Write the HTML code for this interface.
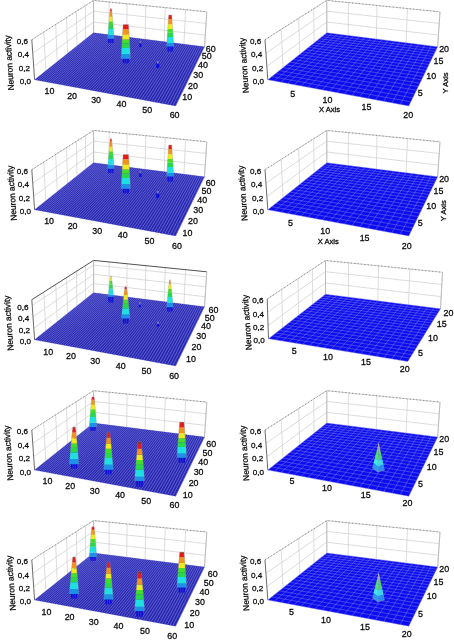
<!DOCTYPE html>
<html lang="en"><head><meta charset="utf-8"><title>Neuron activity</title>
<style>html,body{margin:0;padding:0;background:#fff}svg{display:block}text{font-family:"Liberation Sans",Arial,sans-serif}</style></head><body>
<svg width="454" height="642" viewBox="0 0 454 642">
<rect width="454" height="642" fill="#ffffff"/>
<g>
<line x1="45.83" y1="70.85" x2="43.74" y2="32.11" stroke="#d0d0d0" stroke-width="0.75"/>
<line x1="109.01" y1="34.73" x2="109.16" y2="1.97" stroke="#d0d0d0" stroke-width="0.75"/>
<line x1="57.2" y1="61.8" x2="55.73" y2="24.48" stroke="#d0d0d0" stroke-width="0.75"/>
<line x1="126.72" y1="36.95" x2="127.12" y2="3.78" stroke="#d0d0d0" stroke-width="0.75"/>
<line x1="67.53" y1="53.57" x2="66.56" y2="17.59" stroke="#d0d0d0" stroke-width="0.75"/>
<line x1="145.08" y1="39.25" x2="145.81" y2="5.66" stroke="#d0d0d0" stroke-width="0.75"/>
<line x1="76.97" y1="46.05" x2="76.4" y2="11.33" stroke="#d0d0d0" stroke-width="0.75"/>
<line x1="164.14" y1="41.64" x2="165.29" y2="7.62" stroke="#d0d0d0" stroke-width="0.75"/>
<line x1="85.63" y1="39.15" x2="85.38" y2="5.63" stroke="#d0d0d0" stroke-width="0.75"/>
<line x1="183.93" y1="44.12" x2="185.6" y2="9.66" stroke="#d0d0d0" stroke-width="0.75"/>
<line x1="93.6" y1="32.8" x2="93.6" y2="0.4" stroke="#d0d0d0" stroke-width="0.75"/>
<line x1="204.5" y1="46.7" x2="206.8" y2="11.8" stroke="#d0d0d0" stroke-width="0.75"/>
<polyline points="33.67,66.43 93.6,22 205.27,35.07" fill="none" stroke="#d0d0d0" stroke-width="0.75"/>
<polyline points="32.73,53.07 93.6,11.2 206.03,23.43" fill="none" stroke="#d0d0d0" stroke-width="0.75"/>
<polyline points="31.8,39.7 93.6,0.4 206.8,11.8" fill="none" stroke="#c4c4c4" stroke-width="0.8"/>
<polyline points="31.8,39.7 93.6,0.4 206.8,11.8" fill="none" stroke="#808080" stroke-width="0.8" stroke-dasharray="1.3 2.1"/>
<line x1="34.6" y1="79.8" x2="31.8" y2="39.7" stroke="#5a5a5a" stroke-width="0.9"/>
<line x1="93.6" y1="32.8" x2="93.6" y2="0.4" stroke="#b4b4b4" stroke-width="0.8"/>
<line x1="204.5" y1="46.7" x2="206.8" y2="11.8" stroke="#b4b4b4" stroke-width="0.8"/>
<polygon points="34.6,79.8 175.6,106 204.5,46.7 93.6,32.8" fill="#2020aa"/>
<g stroke="#5656d0" stroke-width="0.5" stroke-opacity="0.4">
<line x1="34.6" y1="79.8" x2="175.6" y2="106"/>
<line x1="35.9" y1="78.76" x2="176.26" y2="104.65"/>
<line x1="37.19" y1="77.74" x2="176.91" y2="103.31"/>
<line x1="38.46" y1="76.73" x2="177.56" y2="101.99"/>
<line x1="39.72" y1="75.72" x2="178.19" y2="100.68"/>
<line x1="40.97" y1="74.73" x2="178.82" y2="99.39"/>
<line x1="42.2" y1="73.74" x2="179.44" y2="98.11"/>
<line x1="43.43" y1="72.77" x2="180.06" y2="96.85"/>
<line x1="44.64" y1="71.8" x2="180.67" y2="95.61"/>
<line x1="45.83" y1="70.85" x2="181.27" y2="94.37"/>
<line x1="47.02" y1="69.9" x2="181.86" y2="93.16"/>
<line x1="48.2" y1="68.97" x2="182.45" y2="91.95"/>
<line x1="49.36" y1="68.04" x2="183.03" y2="90.76"/>
<line x1="50.51" y1="67.12" x2="183.6" y2="89.58"/>
<line x1="51.65" y1="66.22" x2="184.17" y2="88.42"/>
<line x1="52.78" y1="65.32" x2="184.73" y2="87.26"/>
<line x1="53.9" y1="64.42" x2="185.29" y2="86.13"/>
<line x1="55.01" y1="63.54" x2="185.84" y2="85"/>
<line x1="56.11" y1="62.67" x2="186.38" y2="83.88"/>
<line x1="57.2" y1="61.8" x2="186.92" y2="82.78"/>
<line x1="58.27" y1="60.94" x2="187.45" y2="81.69"/>
<line x1="59.34" y1="60.09" x2="187.97" y2="80.61"/>
<line x1="60.4" y1="59.25" x2="188.49" y2="79.54"/>
<line x1="61.44" y1="58.42" x2="189.01" y2="78.49"/>
<line x1="62.48" y1="57.59" x2="189.52" y2="77.44"/>
<line x1="63.51" y1="56.77" x2="190.02" y2="76.41"/>
<line x1="64.53" y1="55.96" x2="190.52" y2="75.38"/>
<line x1="65.54" y1="55.15" x2="191.02" y2="74.37"/>
<line x1="66.54" y1="54.36" x2="191.5" y2="73.37"/>
<line x1="67.53" y1="53.57" x2="191.99" y2="72.37"/>
<line x1="68.51" y1="52.78" x2="192.47" y2="71.39"/>
<line x1="69.49" y1="52.01" x2="192.94" y2="70.42"/>
<line x1="70.45" y1="51.24" x2="193.41" y2="69.46"/>
<line x1="71.41" y1="50.48" x2="193.87" y2="68.5"/>
<line x1="72.36" y1="49.72" x2="194.33" y2="67.56"/>
<line x1="73.29" y1="48.98" x2="194.79" y2="66.63"/>
<line x1="74.23" y1="48.23" x2="195.24" y2="65.7"/>
<line x1="75.15" y1="47.5" x2="195.69" y2="64.79"/>
<line x1="76.06" y1="46.77" x2="196.13" y2="63.88"/>
<line x1="76.97" y1="46.05" x2="196.56" y2="62.98"/>
<line x1="77.87" y1="45.33" x2="197" y2="62.09"/>
<line x1="78.76" y1="44.62" x2="197.43" y2="61.21"/>
<line x1="79.65" y1="43.92" x2="197.85" y2="60.34"/>
<line x1="80.52" y1="43.22" x2="198.27" y2="59.48"/>
<line x1="81.39" y1="42.52" x2="198.69" y2="58.62"/>
<line x1="82.25" y1="41.84" x2="199.1" y2="57.77"/>
<line x1="83.11" y1="41.16" x2="199.51" y2="56.93"/>
<line x1="83.96" y1="40.48" x2="199.92" y2="56.1"/>
<line x1="84.8" y1="39.81" x2="200.32" y2="55.28"/>
<line x1="85.63" y1="39.15" x2="200.72" y2="54.46"/>
<line x1="86.46" y1="38.49" x2="201.11" y2="53.65"/>
<line x1="87.28" y1="37.84" x2="201.5" y2="52.85"/>
<line x1="88.09" y1="37.19" x2="201.89" y2="52.06"/>
<line x1="88.9" y1="36.55" x2="202.27" y2="51.27"/>
<line x1="89.7" y1="35.91" x2="202.65" y2="50.49"/>
<line x1="90.49" y1="35.28" x2="203.03" y2="49.72"/>
<line x1="91.28" y1="34.65" x2="203.4" y2="48.96"/>
<line x1="92.06" y1="34.03" x2="203.77" y2="48.2"/>
<line x1="92.83" y1="33.41" x2="204.14" y2="47.45"/>
<line x1="93.6" y1="32.8" x2="204.5" y2="46.7"/>
</g>
<g stroke="#7c7ce2" stroke-width="0.9" stroke-opacity="0.72">
<line x1="34.6" y1="79.8" x2="93.6" y2="32.8"/>
<line x1="36.67" y1="80.18" x2="95.29" y2="33.01"/>
<line x1="38.75" y1="80.57" x2="96.98" y2="33.22"/>
<line x1="40.84" y1="80.96" x2="98.68" y2="33.44"/>
<line x1="42.94" y1="81.35" x2="100.39" y2="33.65"/>
<line x1="45.05" y1="81.74" x2="102.1" y2="33.87"/>
<line x1="47.17" y1="82.14" x2="103.82" y2="34.08"/>
<line x1="49.3" y1="82.53" x2="105.54" y2="34.3"/>
<line x1="51.44" y1="82.93" x2="107.27" y2="34.51"/>
<line x1="53.59" y1="83.33" x2="109.01" y2="34.73"/>
<line x1="55.75" y1="83.73" x2="110.75" y2="34.95"/>
<line x1="57.91" y1="84.13" x2="112.5" y2="35.17"/>
<line x1="60.09" y1="84.54" x2="114.25" y2="35.39"/>
<line x1="62.28" y1="84.94" x2="116.01" y2="35.61"/>
<line x1="64.48" y1="85.35" x2="117.78" y2="35.83"/>
<line x1="66.7" y1="85.76" x2="119.56" y2="36.05"/>
<line x1="68.92" y1="86.18" x2="121.34" y2="36.28"/>
<line x1="71.15" y1="86.59" x2="123.12" y2="36.5"/>
<line x1="73.39" y1="87.01" x2="124.92" y2="36.73"/>
<line x1="75.64" y1="87.43" x2="126.72" y2="36.95"/>
<line x1="77.91" y1="87.85" x2="128.52" y2="37.18"/>
<line x1="80.18" y1="88.27" x2="130.34" y2="37.4"/>
<line x1="82.47" y1="88.7" x2="132.15" y2="37.63"/>
<line x1="84.77" y1="89.12" x2="133.98" y2="37.86"/>
<line x1="87.08" y1="89.55" x2="135.81" y2="38.09"/>
<line x1="89.4" y1="89.98" x2="137.65" y2="38.32"/>
<line x1="91.73" y1="90.42" x2="139.5" y2="38.55"/>
<line x1="94.07" y1="90.85" x2="141.35" y2="38.79"/>
<line x1="96.42" y1="91.29" x2="143.21" y2="39.02"/>
<line x1="98.79" y1="91.73" x2="145.08" y2="39.25"/>
<line x1="101.17" y1="92.17" x2="146.96" y2="39.49"/>
<line x1="103.55" y1="92.61" x2="148.84" y2="39.72"/>
<line x1="105.96" y1="93.06" x2="150.72" y2="39.96"/>
<line x1="108.37" y1="93.51" x2="152.62" y2="40.2"/>
<line x1="110.79" y1="93.96" x2="154.52" y2="40.44"/>
<line x1="113.23" y1="94.41" x2="156.43" y2="40.68"/>
<line x1="115.68" y1="94.87" x2="158.35" y2="40.92"/>
<line x1="118.14" y1="95.32" x2="160.27" y2="41.16"/>
<line x1="120.61" y1="95.78" x2="162.2" y2="41.4"/>
<line x1="123.1" y1="96.24" x2="164.14" y2="41.64"/>
<line x1="125.6" y1="96.71" x2="166.09" y2="41.89"/>
<line x1="128.11" y1="97.18" x2="168.04" y2="42.13"/>
<line x1="130.63" y1="97.64" x2="170" y2="42.38"/>
<line x1="133.17" y1="98.12" x2="171.97" y2="42.62"/>
<line x1="135.72" y1="98.59" x2="173.94" y2="42.87"/>
<line x1="138.29" y1="99.07" x2="175.92" y2="43.12"/>
<line x1="140.86" y1="99.55" x2="177.91" y2="43.37"/>
<line x1="143.45" y1="100.03" x2="179.91" y2="43.62"/>
<line x1="146.05" y1="100.51" x2="181.92" y2="43.87"/>
<line x1="148.67" y1="101" x2="183.93" y2="44.12"/>
<line x1="151.3" y1="101.48" x2="185.95" y2="44.38"/>
<line x1="153.94" y1="101.98" x2="187.98" y2="44.63"/>
<line x1="156.6" y1="102.47" x2="190.02" y2="44.88"/>
<line x1="159.27" y1="102.97" x2="192.06" y2="45.14"/>
<line x1="161.96" y1="103.47" x2="194.12" y2="45.4"/>
<line x1="164.66" y1="103.97" x2="196.18" y2="45.66"/>
<line x1="167.37" y1="104.47" x2="198.25" y2="45.92"/>
<line x1="170.1" y1="104.98" x2="200.32" y2="46.18"/>
<line x1="172.84" y1="105.49" x2="202.41" y2="46.44"/>
<line x1="175.6" y1="106" x2="204.5" y2="46.7"/>
</g>
<polygon points="139.3,43.2 141.5,43.2 141.5,47 139.3,47" fill="#0c0cdc"/>
<polygon points="139.6,40.8 141.2,40.8 141.3,43.2 139.5,43.2" fill="#6e78bc"/>
<polygon points="108.1,38.4 113.7,38.4 113.4,43 108.4,43" fill="#0c0cdc"/>
<line x1="109.97" y1="38.7" x2="109.97" y2="43" stroke="#4a4ac8" stroke-width="0.6"/>
<line x1="111.83" y1="38.7" x2="111.83" y2="43" stroke="#4a4ac8" stroke-width="0.6"/>
<polygon points="107.65,38.7 107.75,37.4 107.85,36.11 107.95,34.81 113.85,34.81 113.95,36.11 114.05,37.4 114.15,38.7" fill="#1e90e6"/>
<polygon points="107.95,34.81 108.09,32.88 108.25,30.94 108.4,29.01 113.4,29.01 113.55,30.94 113.71,32.88 113.85,34.81" fill="#1ee0e0"/>
<polygon points="108.4,29.01 108.51,27.64 108.62,26.28 108.73,24.91 113.07,24.91 113.18,26.28 113.29,27.64 113.4,29.01" fill="#28d84c"/>
<polygon points="108.73,24.91 108.83,23.66 108.94,22.41 109.04,21.16 112.76,21.16 112.86,22.41 112.97,23.66 113.07,24.91" fill="#44de28"/>
<polygon points="109.04,21.16 109.17,19.68 109.3,18.2 109.44,16.72 112.36,16.72 112.5,18.2 112.63,19.68 112.76,21.16" fill="#ecec1e"/>
<polygon points="109.44,16.72 109.6,15.02 109.76,13.31 109.94,11.6 111.86,11.6 112.04,13.31 112.2,15.02 112.36,16.72" fill="#f29418"/>
<polygon points="109.94,11.6 110.04,10.64 110.16,9.67 110.3,8.7 111.5,8.7 111.64,9.67 111.76,10.64 111.86,11.6" fill="#e41c14"/>
<polyline points="107.65,38.7 108.03,33.7 108.42,28.7 108.83,23.7 109.26,18.7 109.72,13.7 110.3,8.7 111.5,8.7 112.08,13.7 112.54,18.7 112.97,23.7 113.38,28.7 113.77,33.7 114.15,38.7" fill="none" stroke="#8c8ca6" stroke-width="0.5" stroke-opacity="0.6"/>
<polygon points="167.4,46.2 173,46.2 172.7,51.5 167.7,51.5" fill="#0c0cdc"/>
<line x1="169.27" y1="46.5" x2="169.27" y2="51.5" stroke="#4a4ac8" stroke-width="0.6"/>
<line x1="171.13" y1="46.5" x2="171.13" y2="51.5" stroke="#4a4ac8" stroke-width="0.6"/>
<polygon points="166.6,46.5 166.67,45.34 166.74,44.18 166.81,43.02 173.59,43.02 173.66,44.18 173.73,45.34 173.8,46.5" fill="#1e90e6"/>
<polygon points="166.81,43.02 166.93,41.02 167.05,39.01 167.18,37.01 173.22,37.01 173.35,39.01 173.47,41.02 173.59,43.02" fill="#1ee0e0"/>
<polygon points="167.18,37.01 167.27,35.6 167.36,34.19 167.45,32.77 172.95,32.77 173.04,34.19 173.13,35.6 173.22,37.01" fill="#28d84c"/>
<polygon points="167.45,32.77 167.53,31.48 167.62,30.18 167.7,28.88 172.7,28.88 172.78,30.18 172.87,31.48 172.95,32.77" fill="#44de28"/>
<polygon points="167.7,28.88 167.81,27.35 167.91,25.82 168.02,24.29 172.38,24.29 172.49,25.82 172.59,27.35 172.7,28.88" fill="#ecec1e"/>
<polygon points="168.02,24.29 168.15,22.52 168.28,20.76 168.42,18.99 171.98,18.99 172.12,20.76 172.25,22.52 172.38,24.29" fill="#f29418"/>
<polygon points="168.42,18.99 168.53,17.66 168.65,16.33 168.8,15 171.6,15 171.75,16.33 171.87,17.66 171.98,18.99" fill="#e41c14"/>
<polyline points="166.6,46.5 166.92,41.25 167.24,36 167.58,30.75 167.94,25.5 168.32,20.25 168.8,15 171.6,15 172.08,20.25 172.46,25.5 172.82,30.75 173.16,36 173.48,41.25 173.8,46.5" fill="none" stroke="#8c8ca6" stroke-width="0.5" stroke-opacity="0.6"/>
<polygon points="122.64,58.5 128.96,58.5 128.66,63.2 122.94,63.2" fill="#0c0cdc"/>
<line x1="124.75" y1="58.8" x2="124.75" y2="63.2" stroke="#4a4ac8" stroke-width="0.6"/>
<line x1="126.85" y1="58.8" x2="126.85" y2="63.2" stroke="#4a4ac8" stroke-width="0.6"/>
<polygon points="121.15,58.8 121.23,57.31 121.3,55.81 121.38,54.32 130.22,54.32 130.3,55.81 130.37,57.31 130.45,58.8" fill="#1e90e6"/>
<polygon points="121.38,54.32 121.49,52.22 121.6,50.13 121.71,48.03 129.89,48.03 130,50.13 130.11,52.22 130.22,54.32" fill="#1ee0e0"/>
<polygon points="121.71,48.03 121.79,46.55 121.87,45.07 121.95,43.59 129.65,43.59 129.73,45.07 129.81,46.55 129.89,48.03" fill="#28d84c"/>
<polygon points="121.95,43.59 122.03,42.23 122.11,40.87 122.18,39.52 129.42,39.52 129.49,40.87 129.57,42.23 129.65,43.59" fill="#44de28"/>
<polygon points="122.18,39.52 122.28,37.91 122.37,36.31 122.47,34.71 129.13,34.71 129.23,36.31 129.32,37.91 129.42,39.52" fill="#ecec1e"/>
<polygon points="122.47,34.71 122.58,32.86 122.7,31.01 122.82,29.16 128.78,29.16 128.9,31.01 129.02,32.86 129.13,34.71" fill="#f29418"/>
<polygon points="122.82,29.16 122.93,27.68 123.04,26.2 123.17,24.72 128.43,24.72 128.56,26.2 128.67,27.68 128.78,29.16" fill="#e41c14"/>
<polygon points="123.17,24.72 123.18,24.64 123.19,24.57 123.2,24.5 128.4,24.5 128.41,24.57 128.42,24.64 128.43,24.72" fill="#8a3020"/>
<polyline points="121.15,58.8 121.44,53.08 121.75,47.37 122.06,41.65 122.39,35.93 122.75,30.22 123.2,24.5 128.4,24.5 128.85,30.22 129.21,35.93 129.54,41.65 129.85,47.37 130.16,53.08 130.45,58.8" fill="none" stroke="#8c8ca6" stroke-width="0.5" stroke-opacity="0.6"/>
<polygon points="156.3,63.4 159.3,63.4 159.3,68 156.3,68" fill="#0c0cdc"/>
<polygon points="157,61 158.6,61 158.7,63.4 156.9,63.4" fill="#6e78bc"/>
<text x="30.9" y="84.2" font-size="8.1" text-anchor="end" fill="#0a0a0a" stroke="#0a0a0a" stroke-width="0.28">0,0</text>
<text x="29.97" y="70.83" font-size="8.1" text-anchor="end" fill="#0a0a0a" stroke="#0a0a0a" stroke-width="0.28">0,2</text>
<text x="29.03" y="57.47" font-size="8.1" text-anchor="end" fill="#0a0a0a" stroke="#0a0a0a" stroke-width="0.28">0,4</text>
<text x="28.1" y="44.1" font-size="8.1" text-anchor="end" fill="#0a0a0a" stroke="#0a0a0a" stroke-width="0.28">0,6</text>
<text x="12.2" y="62.7" font-size="8.4" text-anchor="middle" fill="#0a0a0a" stroke="#0a0a0a" stroke-width="0.28" transform="rotate(-94 12.2 62.7)">Neuron activity</text>
<text x="49.5" y="94.2" font-size="8.9" text-anchor="middle" fill="#0a0a0a" stroke="#0a0a0a" stroke-width="0.28">10</text>
<text x="72.1" y="98.5" font-size="8.9" text-anchor="middle" fill="#0a0a0a" stroke="#0a0a0a" stroke-width="0.28">20</text>
<text x="96.1" y="103" font-size="8.9" text-anchor="middle" fill="#0a0a0a" stroke="#0a0a0a" stroke-width="0.28">30</text>
<text x="121.4" y="107.4" font-size="8.9" text-anchor="middle" fill="#0a0a0a" stroke="#0a0a0a" stroke-width="0.28">40</text>
<text x="147.3" y="112.9" font-size="8.9" text-anchor="middle" fill="#0a0a0a" stroke="#0a0a0a" stroke-width="0.28">50</text>
<text x="174.6" y="118" font-size="8.9" text-anchor="middle" fill="#0a0a0a" stroke="#0a0a0a" stroke-width="0.28">60</text>
<text x="187.2" y="99.8" font-size="8.9" text-anchor="middle" fill="#0a0a0a" stroke="#0a0a0a" stroke-width="0.28">10</text>
<text x="193" y="88.6" font-size="8.9" text-anchor="middle" fill="#0a0a0a" stroke="#0a0a0a" stroke-width="0.28">20</text>
<text x="198.3" y="78.1" font-size="8.9" text-anchor="middle" fill="#0a0a0a" stroke="#0a0a0a" stroke-width="0.28">30</text>
<text x="202.9" y="68.2" font-size="8.9" text-anchor="middle" fill="#0a0a0a" stroke="#0a0a0a" stroke-width="0.28">40</text>
<text x="206.7" y="59.4" font-size="8.9" text-anchor="middle" fill="#0a0a0a" stroke="#0a0a0a" stroke-width="0.28">50</text>
<text x="210.7" y="51.7" font-size="8.9" text-anchor="middle" fill="#0a0a0a" stroke="#0a0a0a" stroke-width="0.28">60</text>
</g>
<g>
<line x1="45.83" y1="200.85" x2="43.74" y2="162.11" stroke="#d0d0d0" stroke-width="0.75"/>
<line x1="109.01" y1="164.73" x2="109.16" y2="131.97" stroke="#d0d0d0" stroke-width="0.75"/>
<line x1="57.2" y1="191.8" x2="55.73" y2="154.48" stroke="#d0d0d0" stroke-width="0.75"/>
<line x1="126.72" y1="166.95" x2="127.12" y2="133.78" stroke="#d0d0d0" stroke-width="0.75"/>
<line x1="67.53" y1="183.57" x2="66.56" y2="147.59" stroke="#d0d0d0" stroke-width="0.75"/>
<line x1="145.08" y1="169.25" x2="145.81" y2="135.66" stroke="#d0d0d0" stroke-width="0.75"/>
<line x1="76.97" y1="176.05" x2="76.4" y2="141.33" stroke="#d0d0d0" stroke-width="0.75"/>
<line x1="164.14" y1="171.64" x2="165.29" y2="137.62" stroke="#d0d0d0" stroke-width="0.75"/>
<line x1="85.63" y1="169.15" x2="85.38" y2="135.63" stroke="#d0d0d0" stroke-width="0.75"/>
<line x1="183.93" y1="174.12" x2="185.6" y2="139.66" stroke="#d0d0d0" stroke-width="0.75"/>
<line x1="93.6" y1="162.8" x2="93.6" y2="130.4" stroke="#d0d0d0" stroke-width="0.75"/>
<line x1="204.5" y1="176.7" x2="206.8" y2="141.8" stroke="#d0d0d0" stroke-width="0.75"/>
<polyline points="33.67,196.43 93.6,152 205.27,165.07" fill="none" stroke="#d0d0d0" stroke-width="0.75"/>
<polyline points="32.73,183.07 93.6,141.2 206.03,153.43" fill="none" stroke="#d0d0d0" stroke-width="0.75"/>
<polyline points="31.8,169.7 93.6,130.4 206.8,141.8" fill="none" stroke="#c4c4c4" stroke-width="0.8"/>
<polyline points="31.8,169.7 93.6,130.4 206.8,141.8" fill="none" stroke="#808080" stroke-width="0.8" stroke-dasharray="1.3 2.1"/>
<line x1="34.6" y1="209.8" x2="31.8" y2="169.7" stroke="#5a5a5a" stroke-width="0.9"/>
<line x1="93.6" y1="162.8" x2="93.6" y2="130.4" stroke="#b4b4b4" stroke-width="0.8"/>
<line x1="204.5" y1="176.7" x2="206.8" y2="141.8" stroke="#b4b4b4" stroke-width="0.8"/>
<polygon points="34.6,209.8 175.6,236 204.5,176.7 93.6,162.8" fill="#2020aa"/>
<g stroke="#5656d0" stroke-width="0.5" stroke-opacity="0.4">
<line x1="34.6" y1="209.8" x2="175.6" y2="236"/>
<line x1="35.9" y1="208.76" x2="176.26" y2="234.65"/>
<line x1="37.19" y1="207.74" x2="176.91" y2="233.31"/>
<line x1="38.46" y1="206.73" x2="177.56" y2="231.99"/>
<line x1="39.72" y1="205.72" x2="178.19" y2="230.68"/>
<line x1="40.97" y1="204.73" x2="178.82" y2="229.39"/>
<line x1="42.2" y1="203.74" x2="179.44" y2="228.11"/>
<line x1="43.43" y1="202.77" x2="180.06" y2="226.85"/>
<line x1="44.64" y1="201.8" x2="180.67" y2="225.61"/>
<line x1="45.83" y1="200.85" x2="181.27" y2="224.37"/>
<line x1="47.02" y1="199.9" x2="181.86" y2="223.16"/>
<line x1="48.2" y1="198.97" x2="182.45" y2="221.95"/>
<line x1="49.36" y1="198.04" x2="183.03" y2="220.76"/>
<line x1="50.51" y1="197.12" x2="183.6" y2="219.58"/>
<line x1="51.65" y1="196.22" x2="184.17" y2="218.42"/>
<line x1="52.78" y1="195.32" x2="184.73" y2="217.26"/>
<line x1="53.9" y1="194.42" x2="185.29" y2="216.13"/>
<line x1="55.01" y1="193.54" x2="185.84" y2="215"/>
<line x1="56.11" y1="192.67" x2="186.38" y2="213.88"/>
<line x1="57.2" y1="191.8" x2="186.92" y2="212.78"/>
<line x1="58.27" y1="190.94" x2="187.45" y2="211.69"/>
<line x1="59.34" y1="190.09" x2="187.97" y2="210.61"/>
<line x1="60.4" y1="189.25" x2="188.49" y2="209.54"/>
<line x1="61.44" y1="188.42" x2="189.01" y2="208.49"/>
<line x1="62.48" y1="187.59" x2="189.52" y2="207.44"/>
<line x1="63.51" y1="186.77" x2="190.02" y2="206.41"/>
<line x1="64.53" y1="185.96" x2="190.52" y2="205.38"/>
<line x1="65.54" y1="185.15" x2="191.02" y2="204.37"/>
<line x1="66.54" y1="184.36" x2="191.5" y2="203.37"/>
<line x1="67.53" y1="183.57" x2="191.99" y2="202.37"/>
<line x1="68.51" y1="182.78" x2="192.47" y2="201.39"/>
<line x1="69.49" y1="182.01" x2="192.94" y2="200.42"/>
<line x1="70.45" y1="181.24" x2="193.41" y2="199.46"/>
<line x1="71.41" y1="180.48" x2="193.87" y2="198.5"/>
<line x1="72.36" y1="179.72" x2="194.33" y2="197.56"/>
<line x1="73.29" y1="178.98" x2="194.79" y2="196.63"/>
<line x1="74.23" y1="178.23" x2="195.24" y2="195.7"/>
<line x1="75.15" y1="177.5" x2="195.69" y2="194.79"/>
<line x1="76.06" y1="176.77" x2="196.13" y2="193.88"/>
<line x1="76.97" y1="176.05" x2="196.56" y2="192.98"/>
<line x1="77.87" y1="175.33" x2="197" y2="192.09"/>
<line x1="78.76" y1="174.62" x2="197.43" y2="191.21"/>
<line x1="79.65" y1="173.92" x2="197.85" y2="190.34"/>
<line x1="80.52" y1="173.22" x2="198.27" y2="189.48"/>
<line x1="81.39" y1="172.52" x2="198.69" y2="188.62"/>
<line x1="82.25" y1="171.84" x2="199.1" y2="187.77"/>
<line x1="83.11" y1="171.16" x2="199.51" y2="186.93"/>
<line x1="83.96" y1="170.48" x2="199.92" y2="186.1"/>
<line x1="84.8" y1="169.81" x2="200.32" y2="185.28"/>
<line x1="85.63" y1="169.15" x2="200.72" y2="184.46"/>
<line x1="86.46" y1="168.49" x2="201.11" y2="183.65"/>
<line x1="87.28" y1="167.84" x2="201.5" y2="182.85"/>
<line x1="88.09" y1="167.19" x2="201.89" y2="182.06"/>
<line x1="88.9" y1="166.55" x2="202.27" y2="181.27"/>
<line x1="89.7" y1="165.91" x2="202.65" y2="180.49"/>
<line x1="90.49" y1="165.28" x2="203.03" y2="179.72"/>
<line x1="91.28" y1="164.65" x2="203.4" y2="178.96"/>
<line x1="92.06" y1="164.03" x2="203.77" y2="178.2"/>
<line x1="92.83" y1="163.41" x2="204.14" y2="177.45"/>
<line x1="93.6" y1="162.8" x2="204.5" y2="176.7"/>
</g>
<g stroke="#7c7ce2" stroke-width="0.9" stroke-opacity="0.72">
<line x1="34.6" y1="209.8" x2="93.6" y2="162.8"/>
<line x1="36.67" y1="210.18" x2="95.29" y2="163.01"/>
<line x1="38.75" y1="210.57" x2="96.98" y2="163.22"/>
<line x1="40.84" y1="210.96" x2="98.68" y2="163.44"/>
<line x1="42.94" y1="211.35" x2="100.39" y2="163.65"/>
<line x1="45.05" y1="211.74" x2="102.1" y2="163.87"/>
<line x1="47.17" y1="212.14" x2="103.82" y2="164.08"/>
<line x1="49.3" y1="212.53" x2="105.54" y2="164.3"/>
<line x1="51.44" y1="212.93" x2="107.27" y2="164.51"/>
<line x1="53.59" y1="213.33" x2="109.01" y2="164.73"/>
<line x1="55.75" y1="213.73" x2="110.75" y2="164.95"/>
<line x1="57.91" y1="214.13" x2="112.5" y2="165.17"/>
<line x1="60.09" y1="214.54" x2="114.25" y2="165.39"/>
<line x1="62.28" y1="214.94" x2="116.01" y2="165.61"/>
<line x1="64.48" y1="215.35" x2="117.78" y2="165.83"/>
<line x1="66.7" y1="215.76" x2="119.56" y2="166.05"/>
<line x1="68.92" y1="216.18" x2="121.34" y2="166.28"/>
<line x1="71.15" y1="216.59" x2="123.12" y2="166.5"/>
<line x1="73.39" y1="217.01" x2="124.92" y2="166.73"/>
<line x1="75.64" y1="217.43" x2="126.72" y2="166.95"/>
<line x1="77.91" y1="217.85" x2="128.52" y2="167.18"/>
<line x1="80.18" y1="218.27" x2="130.34" y2="167.4"/>
<line x1="82.47" y1="218.7" x2="132.15" y2="167.63"/>
<line x1="84.77" y1="219.12" x2="133.98" y2="167.86"/>
<line x1="87.08" y1="219.55" x2="135.81" y2="168.09"/>
<line x1="89.4" y1="219.98" x2="137.65" y2="168.32"/>
<line x1="91.73" y1="220.42" x2="139.5" y2="168.55"/>
<line x1="94.07" y1="220.85" x2="141.35" y2="168.79"/>
<line x1="96.42" y1="221.29" x2="143.21" y2="169.02"/>
<line x1="98.79" y1="221.73" x2="145.08" y2="169.25"/>
<line x1="101.17" y1="222.17" x2="146.96" y2="169.49"/>
<line x1="103.55" y1="222.61" x2="148.84" y2="169.72"/>
<line x1="105.96" y1="223.06" x2="150.72" y2="169.96"/>
<line x1="108.37" y1="223.51" x2="152.62" y2="170.2"/>
<line x1="110.79" y1="223.96" x2="154.52" y2="170.44"/>
<line x1="113.23" y1="224.41" x2="156.43" y2="170.68"/>
<line x1="115.68" y1="224.87" x2="158.35" y2="170.92"/>
<line x1="118.14" y1="225.32" x2="160.27" y2="171.16"/>
<line x1="120.61" y1="225.78" x2="162.2" y2="171.4"/>
<line x1="123.1" y1="226.24" x2="164.14" y2="171.64"/>
<line x1="125.6" y1="226.71" x2="166.09" y2="171.89"/>
<line x1="128.11" y1="227.18" x2="168.04" y2="172.13"/>
<line x1="130.63" y1="227.64" x2="170" y2="172.38"/>
<line x1="133.17" y1="228.12" x2="171.97" y2="172.62"/>
<line x1="135.72" y1="228.59" x2="173.94" y2="172.87"/>
<line x1="138.29" y1="229.07" x2="175.92" y2="173.12"/>
<line x1="140.86" y1="229.55" x2="177.91" y2="173.37"/>
<line x1="143.45" y1="230.03" x2="179.91" y2="173.62"/>
<line x1="146.05" y1="230.51" x2="181.92" y2="173.87"/>
<line x1="148.67" y1="231" x2="183.93" y2="174.12"/>
<line x1="151.3" y1="231.48" x2="185.95" y2="174.38"/>
<line x1="153.94" y1="231.98" x2="187.98" y2="174.63"/>
<line x1="156.6" y1="232.47" x2="190.02" y2="174.88"/>
<line x1="159.27" y1="232.97" x2="192.06" y2="175.14"/>
<line x1="161.96" y1="233.47" x2="194.12" y2="175.4"/>
<line x1="164.66" y1="233.97" x2="196.18" y2="175.66"/>
<line x1="167.37" y1="234.47" x2="198.25" y2="175.92"/>
<line x1="170.1" y1="234.98" x2="200.32" y2="176.18"/>
<line x1="172.84" y1="235.49" x2="202.41" y2="176.44"/>
<line x1="175.6" y1="236" x2="204.5" y2="176.7"/>
</g>
<polygon points="139.3,173.2 141.5,173.2 141.5,177 139.3,177" fill="#0c0cdc"/>
<polygon points="139.6,170.8 141.2,170.8 141.3,173.2 139.5,173.2" fill="#6e78bc"/>
<polygon points="108.1,168.4 113.7,168.4 113.4,173 108.4,173" fill="#0c0cdc"/>
<line x1="109.97" y1="168.7" x2="109.97" y2="173" stroke="#4a4ac8" stroke-width="0.6"/>
<line x1="111.83" y1="168.7" x2="111.83" y2="173" stroke="#4a4ac8" stroke-width="0.6"/>
<polygon points="107.65,168.7 107.75,167.4 107.85,166.11 107.95,164.81 113.85,164.81 113.95,166.11 114.05,167.4 114.15,168.7" fill="#1e90e6"/>
<polygon points="107.95,164.81 108.09,162.88 108.25,160.94 108.4,159.01 113.4,159.01 113.55,160.94 113.71,162.88 113.85,164.81" fill="#1ee0e0"/>
<polygon points="108.4,159.01 108.51,157.64 108.62,156.28 108.73,154.91 113.07,154.91 113.18,156.28 113.29,157.64 113.4,159.01" fill="#28d84c"/>
<polygon points="108.73,154.91 108.83,153.66 108.94,152.41 109.04,151.16 112.76,151.16 112.86,152.41 112.97,153.66 113.07,154.91" fill="#44de28"/>
<polygon points="109.04,151.16 109.17,149.68 109.3,148.2 109.44,146.72 112.36,146.72 112.5,148.2 112.63,149.68 112.76,151.16" fill="#ecec1e"/>
<polygon points="109.44,146.72 109.6,145.02 109.76,143.31 109.94,141.6 111.86,141.6 112.04,143.31 112.2,145.02 112.36,146.72" fill="#f29418"/>
<polygon points="109.94,141.6 110.04,140.64 110.16,139.67 110.3,138.7 111.5,138.7 111.64,139.67 111.76,140.64 111.86,141.6" fill="#e41c14"/>
<polyline points="107.65,168.7 108.03,163.7 108.42,158.7 108.83,153.7 109.26,148.7 109.72,143.7 110.3,138.7 111.5,138.7 112.08,143.7 112.54,148.7 112.97,153.7 113.38,158.7 113.77,163.7 114.15,168.7" fill="none" stroke="#8c8ca6" stroke-width="0.5" stroke-opacity="0.6"/>
<polygon points="167.4,176.2 173,176.2 172.7,181.5 167.7,181.5" fill="#0c0cdc"/>
<line x1="169.27" y1="176.5" x2="169.27" y2="181.5" stroke="#4a4ac8" stroke-width="0.6"/>
<line x1="171.13" y1="176.5" x2="171.13" y2="181.5" stroke="#4a4ac8" stroke-width="0.6"/>
<polygon points="166.6,176.5 166.67,175.34 166.74,174.18 166.81,173.02 173.59,173.02 173.66,174.18 173.73,175.34 173.8,176.5" fill="#1e90e6"/>
<polygon points="166.81,173.02 166.93,171.02 167.05,169.01 167.18,167.01 173.22,167.01 173.35,169.01 173.47,171.02 173.59,173.02" fill="#1ee0e0"/>
<polygon points="167.18,167.01 167.27,165.6 167.36,164.19 167.45,162.77 172.95,162.77 173.04,164.19 173.13,165.6 173.22,167.01" fill="#28d84c"/>
<polygon points="167.45,162.77 167.53,161.48 167.62,160.18 167.7,158.88 172.7,158.88 172.78,160.18 172.87,161.48 172.95,162.77" fill="#44de28"/>
<polygon points="167.7,158.88 167.81,157.35 167.91,155.82 168.02,154.29 172.38,154.29 172.49,155.82 172.59,157.35 172.7,158.88" fill="#ecec1e"/>
<polygon points="168.02,154.29 168.15,152.52 168.28,150.76 168.42,148.99 171.98,148.99 172.12,150.76 172.25,152.52 172.38,154.29" fill="#f29418"/>
<polygon points="168.42,148.99 168.53,147.66 168.65,146.33 168.8,145 171.6,145 171.75,146.33 171.87,147.66 171.98,148.99" fill="#e41c14"/>
<polyline points="166.6,176.5 166.92,171.25 167.24,166 167.58,160.75 167.94,155.5 168.32,150.25 168.8,145 171.6,145 172.08,150.25 172.46,155.5 172.82,160.75 173.16,166 173.48,171.25 173.8,176.5" fill="none" stroke="#8c8ca6" stroke-width="0.5" stroke-opacity="0.6"/>
<polygon points="122.64,188.5 128.96,188.5 128.66,193.2 122.94,193.2" fill="#0c0cdc"/>
<line x1="124.75" y1="188.8" x2="124.75" y2="193.2" stroke="#4a4ac8" stroke-width="0.6"/>
<line x1="126.85" y1="188.8" x2="126.85" y2="193.2" stroke="#4a4ac8" stroke-width="0.6"/>
<polygon points="121.15,188.8 121.23,187.31 121.3,185.81 121.38,184.32 130.22,184.32 130.3,185.81 130.37,187.31 130.45,188.8" fill="#1e90e6"/>
<polygon points="121.38,184.32 121.49,182.22 121.6,180.13 121.71,178.03 129.89,178.03 130,180.13 130.11,182.22 130.22,184.32" fill="#1ee0e0"/>
<polygon points="121.71,178.03 121.79,176.55 121.87,175.07 121.95,173.59 129.65,173.59 129.73,175.07 129.81,176.55 129.89,178.03" fill="#28d84c"/>
<polygon points="121.95,173.59 122.03,172.23 122.11,170.87 122.18,169.52 129.42,169.52 129.49,170.87 129.57,172.23 129.65,173.59" fill="#44de28"/>
<polygon points="122.18,169.52 122.28,167.91 122.37,166.31 122.47,164.71 129.13,164.71 129.23,166.31 129.32,167.91 129.42,169.52" fill="#ecec1e"/>
<polygon points="122.47,164.71 122.58,162.86 122.7,161.01 122.82,159.16 128.78,159.16 128.9,161.01 129.02,162.86 129.13,164.71" fill="#f29418"/>
<polygon points="122.82,159.16 122.93,157.68 123.04,156.2 123.17,154.72 128.43,154.72 128.56,156.2 128.67,157.68 128.78,159.16" fill="#e41c14"/>
<polygon points="123.17,154.72 123.18,154.64 123.19,154.57 123.2,154.5 128.4,154.5 128.41,154.57 128.42,154.64 128.43,154.72" fill="#8a3020"/>
<polyline points="121.15,188.8 121.44,183.08 121.75,177.37 122.06,171.65 122.39,165.93 122.75,160.22 123.2,154.5 128.4,154.5 128.85,160.22 129.21,165.93 129.54,171.65 129.85,177.37 130.16,183.08 130.45,188.8" fill="none" stroke="#8c8ca6" stroke-width="0.5" stroke-opacity="0.6"/>
<polygon points="156.3,193.4 159.3,193.4 159.3,198 156.3,198" fill="#0c0cdc"/>
<polygon points="157,191 158.6,191 158.7,193.4 156.9,193.4" fill="#6e78bc"/>
<text x="30.9" y="214.2" font-size="8.1" text-anchor="end" fill="#0a0a0a" stroke="#0a0a0a" stroke-width="0.28">0,0</text>
<text x="29.97" y="200.83" font-size="8.1" text-anchor="end" fill="#0a0a0a" stroke="#0a0a0a" stroke-width="0.28">0,2</text>
<text x="29.03" y="187.47" font-size="8.1" text-anchor="end" fill="#0a0a0a" stroke="#0a0a0a" stroke-width="0.28">0,4</text>
<text x="28.1" y="174.1" font-size="8.1" text-anchor="end" fill="#0a0a0a" stroke="#0a0a0a" stroke-width="0.28">0,6</text>
<text x="14.8" y="193" font-size="8.4" text-anchor="middle" fill="#0a0a0a" stroke="#0a0a0a" stroke-width="0.28" transform="rotate(-94 14.8 193)">Neuron activity</text>
<text x="49.1" y="224" font-size="8.9" text-anchor="middle" fill="#0a0a0a" stroke="#0a0a0a" stroke-width="0.28">10</text>
<text x="72.6" y="228.6" font-size="8.9" text-anchor="middle" fill="#0a0a0a" stroke="#0a0a0a" stroke-width="0.28">20</text>
<text x="97.3" y="233.6" font-size="8.9" text-anchor="middle" fill="#0a0a0a" stroke="#0a0a0a" stroke-width="0.28">30</text>
<text x="122.7" y="238.2" font-size="8.9" text-anchor="middle" fill="#0a0a0a" stroke="#0a0a0a" stroke-width="0.28">40</text>
<text x="149.5" y="243.5" font-size="8.9" text-anchor="middle" fill="#0a0a0a" stroke="#0a0a0a" stroke-width="0.28">50</text>
<text x="176.9" y="248.5" font-size="8.9" text-anchor="middle" fill="#0a0a0a" stroke="#0a0a0a" stroke-width="0.28">60</text>
<text x="187.4" y="236.4" font-size="8.9" text-anchor="middle" fill="#0a0a0a" stroke="#0a0a0a" stroke-width="0.28">10</text>
<text x="193" y="224.2" font-size="8.9" text-anchor="middle" fill="#0a0a0a" stroke="#0a0a0a" stroke-width="0.28">20</text>
<text x="198.2" y="213.2" font-size="8.9" text-anchor="middle" fill="#0a0a0a" stroke="#0a0a0a" stroke-width="0.28">30</text>
<text x="202.3" y="203.1" font-size="8.9" text-anchor="middle" fill="#0a0a0a" stroke="#0a0a0a" stroke-width="0.28">40</text>
<text x="206.5" y="194.3" font-size="8.9" text-anchor="middle" fill="#0a0a0a" stroke="#0a0a0a" stroke-width="0.28">50</text>
<text x="210.6" y="185.9" font-size="8.9" text-anchor="middle" fill="#0a0a0a" stroke="#0a0a0a" stroke-width="0.28">60</text>
</g>
<g>
<line x1="45.83" y1="330.85" x2="43.74" y2="292.11" stroke="#d0d0d0" stroke-width="0.75"/>
<line x1="109.01" y1="294.73" x2="109.16" y2="261.97" stroke="#d0d0d0" stroke-width="0.75"/>
<line x1="57.2" y1="321.8" x2="55.73" y2="284.48" stroke="#d0d0d0" stroke-width="0.75"/>
<line x1="126.72" y1="296.95" x2="127.12" y2="263.78" stroke="#d0d0d0" stroke-width="0.75"/>
<line x1="67.53" y1="313.57" x2="66.56" y2="277.59" stroke="#d0d0d0" stroke-width="0.75"/>
<line x1="145.08" y1="299.25" x2="145.81" y2="265.66" stroke="#d0d0d0" stroke-width="0.75"/>
<line x1="76.97" y1="306.05" x2="76.4" y2="271.33" stroke="#d0d0d0" stroke-width="0.75"/>
<line x1="164.14" y1="301.64" x2="165.29" y2="267.62" stroke="#d0d0d0" stroke-width="0.75"/>
<line x1="85.63" y1="299.15" x2="85.38" y2="265.63" stroke="#d0d0d0" stroke-width="0.75"/>
<line x1="183.93" y1="304.12" x2="185.6" y2="269.66" stroke="#d0d0d0" stroke-width="0.75"/>
<line x1="93.6" y1="292.8" x2="93.6" y2="260.4" stroke="#d0d0d0" stroke-width="0.75"/>
<line x1="204.5" y1="306.7" x2="206.8" y2="271.8" stroke="#d0d0d0" stroke-width="0.75"/>
<polyline points="33.8,328.34 93.6,283.54 205.16,296.73" fill="none" stroke="#d0d0d0" stroke-width="0.75"/>
<polyline points="33,316.89 93.6,274.29 205.81,286.76" fill="none" stroke="#d0d0d0" stroke-width="0.75"/>
<polyline points="32.2,305.43 93.6,265.03 206.47,276.79" fill="none" stroke="#d0d0d0" stroke-width="0.75"/>
<polyline points="31.8,299.7 93.6,260.4 206.8,271.8" fill="none" stroke="#3c3c3c" stroke-width="0.9"/>
<line x1="34.6" y1="339.8" x2="31.8" y2="299.7" stroke="#5a5a5a" stroke-width="0.9"/>
<line x1="93.6" y1="292.8" x2="93.6" y2="260.4" stroke="#b4b4b4" stroke-width="0.8"/>
<line x1="204.5" y1="306.7" x2="206.8" y2="271.8" stroke="#b4b4b4" stroke-width="0.8"/>
<polygon points="34.6,339.8 175.6,366 204.5,306.7 93.6,292.8" fill="#2020aa"/>
<g stroke="#5656d0" stroke-width="0.5" stroke-opacity="0.4">
<line x1="34.6" y1="339.8" x2="175.6" y2="366"/>
<line x1="35.9" y1="338.76" x2="176.26" y2="364.65"/>
<line x1="37.19" y1="337.74" x2="176.91" y2="363.31"/>
<line x1="38.46" y1="336.73" x2="177.56" y2="361.99"/>
<line x1="39.72" y1="335.72" x2="178.19" y2="360.68"/>
<line x1="40.97" y1="334.73" x2="178.82" y2="359.39"/>
<line x1="42.2" y1="333.74" x2="179.44" y2="358.11"/>
<line x1="43.43" y1="332.77" x2="180.06" y2="356.85"/>
<line x1="44.64" y1="331.8" x2="180.67" y2="355.61"/>
<line x1="45.83" y1="330.85" x2="181.27" y2="354.37"/>
<line x1="47.02" y1="329.9" x2="181.86" y2="353.16"/>
<line x1="48.2" y1="328.97" x2="182.45" y2="351.95"/>
<line x1="49.36" y1="328.04" x2="183.03" y2="350.76"/>
<line x1="50.51" y1="327.12" x2="183.6" y2="349.58"/>
<line x1="51.65" y1="326.22" x2="184.17" y2="348.42"/>
<line x1="52.78" y1="325.32" x2="184.73" y2="347.26"/>
<line x1="53.9" y1="324.42" x2="185.29" y2="346.13"/>
<line x1="55.01" y1="323.54" x2="185.84" y2="345"/>
<line x1="56.11" y1="322.67" x2="186.38" y2="343.88"/>
<line x1="57.2" y1="321.8" x2="186.92" y2="342.78"/>
<line x1="58.27" y1="320.94" x2="187.45" y2="341.69"/>
<line x1="59.34" y1="320.09" x2="187.97" y2="340.61"/>
<line x1="60.4" y1="319.25" x2="188.49" y2="339.54"/>
<line x1="61.44" y1="318.42" x2="189.01" y2="338.49"/>
<line x1="62.48" y1="317.59" x2="189.52" y2="337.44"/>
<line x1="63.51" y1="316.77" x2="190.02" y2="336.41"/>
<line x1="64.53" y1="315.96" x2="190.52" y2="335.38"/>
<line x1="65.54" y1="315.15" x2="191.02" y2="334.37"/>
<line x1="66.54" y1="314.36" x2="191.5" y2="333.37"/>
<line x1="67.53" y1="313.57" x2="191.99" y2="332.37"/>
<line x1="68.51" y1="312.78" x2="192.47" y2="331.39"/>
<line x1="69.49" y1="312.01" x2="192.94" y2="330.42"/>
<line x1="70.45" y1="311.24" x2="193.41" y2="329.46"/>
<line x1="71.41" y1="310.48" x2="193.87" y2="328.5"/>
<line x1="72.36" y1="309.72" x2="194.33" y2="327.56"/>
<line x1="73.29" y1="308.98" x2="194.79" y2="326.63"/>
<line x1="74.23" y1="308.23" x2="195.24" y2="325.7"/>
<line x1="75.15" y1="307.5" x2="195.69" y2="324.79"/>
<line x1="76.06" y1="306.77" x2="196.13" y2="323.88"/>
<line x1="76.97" y1="306.05" x2="196.56" y2="322.98"/>
<line x1="77.87" y1="305.33" x2="197" y2="322.09"/>
<line x1="78.76" y1="304.62" x2="197.43" y2="321.21"/>
<line x1="79.65" y1="303.92" x2="197.85" y2="320.34"/>
<line x1="80.52" y1="303.22" x2="198.27" y2="319.48"/>
<line x1="81.39" y1="302.52" x2="198.69" y2="318.62"/>
<line x1="82.25" y1="301.84" x2="199.1" y2="317.77"/>
<line x1="83.11" y1="301.16" x2="199.51" y2="316.93"/>
<line x1="83.96" y1="300.48" x2="199.92" y2="316.1"/>
<line x1="84.8" y1="299.81" x2="200.32" y2="315.28"/>
<line x1="85.63" y1="299.15" x2="200.72" y2="314.46"/>
<line x1="86.46" y1="298.49" x2="201.11" y2="313.65"/>
<line x1="87.28" y1="297.84" x2="201.5" y2="312.85"/>
<line x1="88.09" y1="297.19" x2="201.89" y2="312.06"/>
<line x1="88.9" y1="296.55" x2="202.27" y2="311.27"/>
<line x1="89.7" y1="295.91" x2="202.65" y2="310.49"/>
<line x1="90.49" y1="295.28" x2="203.03" y2="309.72"/>
<line x1="91.28" y1="294.65" x2="203.4" y2="308.96"/>
<line x1="92.06" y1="294.03" x2="203.77" y2="308.2"/>
<line x1="92.83" y1="293.41" x2="204.14" y2="307.45"/>
<line x1="93.6" y1="292.8" x2="204.5" y2="306.7"/>
</g>
<g stroke="#7c7ce2" stroke-width="0.9" stroke-opacity="0.72">
<line x1="34.6" y1="339.8" x2="93.6" y2="292.8"/>
<line x1="36.67" y1="340.18" x2="95.29" y2="293.01"/>
<line x1="38.75" y1="340.57" x2="96.98" y2="293.22"/>
<line x1="40.84" y1="340.96" x2="98.68" y2="293.44"/>
<line x1="42.94" y1="341.35" x2="100.39" y2="293.65"/>
<line x1="45.05" y1="341.74" x2="102.1" y2="293.87"/>
<line x1="47.17" y1="342.14" x2="103.82" y2="294.08"/>
<line x1="49.3" y1="342.53" x2="105.54" y2="294.3"/>
<line x1="51.44" y1="342.93" x2="107.27" y2="294.51"/>
<line x1="53.59" y1="343.33" x2="109.01" y2="294.73"/>
<line x1="55.75" y1="343.73" x2="110.75" y2="294.95"/>
<line x1="57.91" y1="344.13" x2="112.5" y2="295.17"/>
<line x1="60.09" y1="344.54" x2="114.25" y2="295.39"/>
<line x1="62.28" y1="344.94" x2="116.01" y2="295.61"/>
<line x1="64.48" y1="345.35" x2="117.78" y2="295.83"/>
<line x1="66.7" y1="345.76" x2="119.56" y2="296.05"/>
<line x1="68.92" y1="346.18" x2="121.34" y2="296.28"/>
<line x1="71.15" y1="346.59" x2="123.12" y2="296.5"/>
<line x1="73.39" y1="347.01" x2="124.92" y2="296.73"/>
<line x1="75.64" y1="347.43" x2="126.72" y2="296.95"/>
<line x1="77.91" y1="347.85" x2="128.52" y2="297.18"/>
<line x1="80.18" y1="348.27" x2="130.34" y2="297.4"/>
<line x1="82.47" y1="348.7" x2="132.15" y2="297.63"/>
<line x1="84.77" y1="349.12" x2="133.98" y2="297.86"/>
<line x1="87.08" y1="349.55" x2="135.81" y2="298.09"/>
<line x1="89.4" y1="349.98" x2="137.65" y2="298.32"/>
<line x1="91.73" y1="350.42" x2="139.5" y2="298.55"/>
<line x1="94.07" y1="350.85" x2="141.35" y2="298.79"/>
<line x1="96.42" y1="351.29" x2="143.21" y2="299.02"/>
<line x1="98.79" y1="351.73" x2="145.08" y2="299.25"/>
<line x1="101.17" y1="352.17" x2="146.96" y2="299.49"/>
<line x1="103.55" y1="352.61" x2="148.84" y2="299.72"/>
<line x1="105.96" y1="353.06" x2="150.72" y2="299.96"/>
<line x1="108.37" y1="353.51" x2="152.62" y2="300.2"/>
<line x1="110.79" y1="353.96" x2="154.52" y2="300.44"/>
<line x1="113.23" y1="354.41" x2="156.43" y2="300.68"/>
<line x1="115.68" y1="354.87" x2="158.35" y2="300.92"/>
<line x1="118.14" y1="355.32" x2="160.27" y2="301.16"/>
<line x1="120.61" y1="355.78" x2="162.2" y2="301.4"/>
<line x1="123.1" y1="356.24" x2="164.14" y2="301.64"/>
<line x1="125.6" y1="356.71" x2="166.09" y2="301.89"/>
<line x1="128.11" y1="357.18" x2="168.04" y2="302.13"/>
<line x1="130.63" y1="357.64" x2="170" y2="302.38"/>
<line x1="133.17" y1="358.12" x2="171.97" y2="302.62"/>
<line x1="135.72" y1="358.59" x2="173.94" y2="302.87"/>
<line x1="138.29" y1="359.07" x2="175.92" y2="303.12"/>
<line x1="140.86" y1="359.55" x2="177.91" y2="303.37"/>
<line x1="143.45" y1="360.03" x2="179.91" y2="303.62"/>
<line x1="146.05" y1="360.51" x2="181.92" y2="303.87"/>
<line x1="148.67" y1="361" x2="183.93" y2="304.12"/>
<line x1="151.3" y1="361.48" x2="185.95" y2="304.38"/>
<line x1="153.94" y1="361.98" x2="187.98" y2="304.63"/>
<line x1="156.6" y1="362.47" x2="190.02" y2="304.88"/>
<line x1="159.27" y1="362.97" x2="192.06" y2="305.14"/>
<line x1="161.96" y1="363.47" x2="194.12" y2="305.4"/>
<line x1="164.66" y1="363.97" x2="196.18" y2="305.66"/>
<line x1="167.37" y1="364.47" x2="198.25" y2="305.92"/>
<line x1="170.1" y1="364.98" x2="200.32" y2="306.18"/>
<line x1="172.84" y1="365.49" x2="202.41" y2="306.44"/>
<line x1="175.6" y1="366" x2="204.5" y2="306.7"/>
</g>
<polygon points="138.8,304.4 140.8,304.4 140.8,307.3 138.8,307.3" fill="#0c0cdc"/>
<polygon points="139,302 140.6,302 140.7,304.4 138.9,304.4" fill="#6e78bc"/>
<polygon points="108.2,296.4 113.6,296.4 113.3,302.6 108.5,302.6" fill="#0c0cdc"/>
<line x1="110" y1="296.7" x2="110" y2="302.6" stroke="#4a4ac8" stroke-width="0.6"/>
<line x1="111.8" y1="296.7" x2="111.8" y2="302.6" stroke="#4a4ac8" stroke-width="0.6"/>
<polygon points="108.2,296.7 108.27,295.94 108.34,295.18 108.42,294.42 113.38,294.42 113.46,295.18 113.53,295.94 113.6,296.7" fill="#1e90e6"/>
<polygon points="108.42,294.42 108.6,292.49 108.79,290.56 108.98,288.63 112.82,288.63 113.01,290.56 113.2,292.49 113.38,294.42" fill="#1ee0e0"/>
<polygon points="108.98,288.63 109.12,287.27 109.27,285.91 109.41,284.54 112.39,284.54 112.53,285.91 112.68,287.27 112.82,288.63" fill="#28d84c"/>
<polygon points="109.41,284.54 109.55,283.29 109.68,282.05 109.83,280.8 111.97,280.8 112.12,282.05 112.25,283.29 112.39,284.54" fill="#44de28"/>
<polygon points="109.83,280.8 110,279.32 110.19,277.84 110.41,276.37 111.39,276.37 111.61,277.84 111.8,279.32 111.97,280.8" fill="#ecec1e"/>
<polygon points="110.41,276.37 110.44,276.21 110.46,276.06 110.5,275.9 111.3,275.9 111.34,276.06 111.36,276.21 111.39,276.37" fill="#f29418"/>
<polyline points="108.2,296.7 108.53,293.23 108.87,289.77 109.22,286.3 109.6,282.83 110,279.37 110.5,275.9 111.3,275.9 111.8,279.37 112.2,282.83 112.58,286.3 112.93,289.77 113.27,293.23 113.6,296.7" fill="none" stroke="#8c8ca6" stroke-width="0.5" stroke-opacity="0.6"/>
<polygon points="167.1,306.9 172.7,306.9 172.4,311.5 167.4,311.5" fill="#0c0cdc"/>
<line x1="168.97" y1="307.2" x2="168.97" y2="311.5" stroke="#4a4ac8" stroke-width="0.6"/>
<line x1="170.83" y1="307.2" x2="170.83" y2="311.5" stroke="#4a4ac8" stroke-width="0.6"/>
<polygon points="166.65,307.2 166.77,305.81 166.9,304.41 167.02,303.02 172.78,303.02 172.9,304.41 173.03,305.81 173.15,307.2" fill="#1e90e6"/>
<polygon points="167.02,303.02 167.21,301.02 167.39,299.01 167.58,297.01 172.22,297.01 172.41,299.01 172.59,301.02 172.78,303.02" fill="#1ee0e0"/>
<polygon points="167.58,297.01 167.72,295.6 167.85,294.19 167.99,292.77 171.81,292.77 171.95,294.19 172.08,295.6 172.22,297.01" fill="#28d84c"/>
<polygon points="167.99,292.77 168.12,291.48 168.25,290.18 168.38,288.88 171.42,288.88 171.55,290.18 171.68,291.48 171.81,292.77" fill="#44de28"/>
<polygon points="168.38,288.88 168.55,287.35 168.71,285.82 168.89,284.29 170.91,284.29 171.09,285.82 171.25,287.35 171.42,288.88" fill="#ecec1e"/>
<polygon points="168.89,284.29 169.07,282.79 169.26,281.3 169.5,279.8 170.3,279.8 170.54,281.3 170.73,282.79 170.91,284.29" fill="#f29418"/>
<polyline points="166.65,307.2 167.06,302.63 167.48,298.07 167.92,293.5 168.38,288.93 168.88,284.37 169.5,279.8 170.3,279.8 170.92,284.37 171.42,288.93 171.88,293.5 172.32,298.07 172.74,302.63 173.15,307.2" fill="none" stroke="#8c8ca6" stroke-width="0.5" stroke-opacity="0.6"/>
<polygon points="122.81,318.2 128.59,318.2 128.29,323.4 123.11,323.4" fill="#0c0cdc"/>
<line x1="124.74" y1="318.5" x2="124.74" y2="323.4" stroke="#4a4ac8" stroke-width="0.6"/>
<line x1="126.66" y1="318.5" x2="126.66" y2="323.4" stroke="#4a4ac8" stroke-width="0.6"/>
<polygon points="121.45,318.5 121.58,317.17 121.7,315.84 121.83,314.51 129.57,314.51 129.7,315.84 129.82,317.17 129.95,318.5" fill="#1e90e6"/>
<polygon points="121.83,314.51 122.03,312.41 122.23,310.32 122.44,308.22 128.96,308.22 129.17,310.32 129.37,312.41 129.57,314.51" fill="#1ee0e0"/>
<polygon points="122.44,308.22 122.59,306.74 122.74,305.25 122.89,303.77 128.51,303.77 128.66,305.25 128.81,306.74 128.96,308.22" fill="#28d84c"/>
<polygon points="122.89,303.77 123.03,302.42 123.18,301.06 123.32,299.7 128.08,299.7 128.22,301.06 128.37,302.42 128.51,303.77" fill="#44de28"/>
<polygon points="123.32,299.7 123.49,298.09 123.67,296.49 123.85,294.89 127.55,294.89 127.73,296.49 127.91,298.09 128.08,299.7" fill="#ecec1e"/>
<polygon points="123.85,294.89 124.07,293.03 124.3,291.18 124.54,289.33 126.86,289.33 127.1,291.18 127.33,293.03 127.55,294.89" fill="#f29418"/>
<polygon points="124.54,289.33 124.66,288.49 124.79,287.64 124.95,286.8 126.45,286.8 126.61,287.64 126.74,288.49 126.86,289.33" fill="#e41c14"/>
<polyline points="121.45,318.5 121.95,313.22 122.47,307.93 123.01,302.65 123.57,297.37 124.19,292.08 124.95,286.8 126.45,286.8 127.21,292.08 127.83,297.37 128.39,302.65 128.93,307.93 129.45,313.22 129.95,318.5" fill="none" stroke="#8c8ca6" stroke-width="0.5" stroke-opacity="0.6"/>
<polygon points="156.8,323.9 159.2,323.9 159.2,326.5 156.8,326.5" fill="#0c0cdc"/>
<polygon points="157.2,321.5 158.8,321.5 158.9,323.9 157.1,323.9" fill="#6e78bc"/>
<text x="30.9" y="344.2" font-size="8.1" text-anchor="end" fill="#0a0a0a" stroke="#0a0a0a" stroke-width="0.28">0,0</text>
<text x="30.1" y="332.74" font-size="8.1" text-anchor="end" fill="#0a0a0a" stroke="#0a0a0a" stroke-width="0.28">0,2</text>
<text x="29.3" y="321.29" font-size="8.1" text-anchor="end" fill="#0a0a0a" stroke="#0a0a0a" stroke-width="0.28">0,4</text>
<text x="28.5" y="309.83" font-size="8.1" text-anchor="end" fill="#0a0a0a" stroke="#0a0a0a" stroke-width="0.28">0,6</text>
<text x="11.5" y="323" font-size="8.4" text-anchor="middle" fill="#0a0a0a" stroke="#0a0a0a" stroke-width="0.28" transform="rotate(-94 11.5 323)">Neuron activity</text>
<text x="48.2" y="354.7" font-size="8.9" text-anchor="middle" fill="#0a0a0a" stroke="#0a0a0a" stroke-width="0.28">10</text>
<text x="70.9" y="358.9" font-size="8.9" text-anchor="middle" fill="#0a0a0a" stroke="#0a0a0a" stroke-width="0.28">20</text>
<text x="95.3" y="363.6" font-size="8.9" text-anchor="middle" fill="#0a0a0a" stroke="#0a0a0a" stroke-width="0.28">30</text>
<text x="120.8" y="368.5" font-size="8.9" text-anchor="middle" fill="#0a0a0a" stroke="#0a0a0a" stroke-width="0.28">40</text>
<text x="146.5" y="373.5" font-size="8.9" text-anchor="middle" fill="#0a0a0a" stroke="#0a0a0a" stroke-width="0.28">50</text>
<text x="174.1" y="378.5" font-size="8.9" text-anchor="middle" fill="#0a0a0a" stroke="#0a0a0a" stroke-width="0.28">60</text>
<text x="190.9" y="361.5" font-size="8.9" text-anchor="middle" fill="#0a0a0a" stroke="#0a0a0a" stroke-width="0.28">10</text>
<text x="196.4" y="350" font-size="8.9" text-anchor="middle" fill="#0a0a0a" stroke="#0a0a0a" stroke-width="0.28">20</text>
<text x="201.3" y="339" font-size="8.9" text-anchor="middle" fill="#0a0a0a" stroke="#0a0a0a" stroke-width="0.28">30</text>
<text x="205.9" y="329.4" font-size="8.9" text-anchor="middle" fill="#0a0a0a" stroke="#0a0a0a" stroke-width="0.28">40</text>
<text x="209.7" y="320.5" font-size="8.9" text-anchor="middle" fill="#0a0a0a" stroke="#0a0a0a" stroke-width="0.28">50</text>
<text x="213.4" y="312.5" font-size="8.9" text-anchor="middle" fill="#0a0a0a" stroke="#0a0a0a" stroke-width="0.28">60</text>
</g>
<g>
<line x1="45.83" y1="461.15" x2="43.74" y2="422.41" stroke="#d0d0d0" stroke-width="0.75"/>
<line x1="109.01" y1="425.03" x2="109.16" y2="392.27" stroke="#d0d0d0" stroke-width="0.75"/>
<line x1="57.2" y1="452.1" x2="55.73" y2="414.78" stroke="#d0d0d0" stroke-width="0.75"/>
<line x1="126.72" y1="427.25" x2="127.12" y2="394.08" stroke="#d0d0d0" stroke-width="0.75"/>
<line x1="67.53" y1="443.87" x2="66.56" y2="407.89" stroke="#d0d0d0" stroke-width="0.75"/>
<line x1="145.08" y1="429.55" x2="145.81" y2="395.96" stroke="#d0d0d0" stroke-width="0.75"/>
<line x1="76.97" y1="436.35" x2="76.4" y2="401.63" stroke="#d0d0d0" stroke-width="0.75"/>
<line x1="164.14" y1="431.94" x2="165.29" y2="397.92" stroke="#d0d0d0" stroke-width="0.75"/>
<line x1="85.63" y1="429.45" x2="85.38" y2="395.93" stroke="#d0d0d0" stroke-width="0.75"/>
<line x1="183.93" y1="434.42" x2="185.6" y2="399.96" stroke="#d0d0d0" stroke-width="0.75"/>
<line x1="93.6" y1="423.1" x2="93.6" y2="390.7" stroke="#d0d0d0" stroke-width="0.75"/>
<line x1="204.5" y1="437" x2="206.8" y2="402.1" stroke="#d0d0d0" stroke-width="0.75"/>
<polyline points="33.67,456.73 93.6,412.3 205.27,425.37" fill="none" stroke="#d0d0d0" stroke-width="0.75"/>
<polyline points="32.73,443.37 93.6,401.5 206.03,413.73" fill="none" stroke="#d0d0d0" stroke-width="0.75"/>
<polyline points="31.8,430 93.6,390.7 206.8,402.1" fill="none" stroke="#c4c4c4" stroke-width="0.8"/>
<polyline points="31.8,430 93.6,390.7 206.8,402.1" fill="none" stroke="#808080" stroke-width="0.8" stroke-dasharray="1.3 2.1"/>
<line x1="34.6" y1="470.1" x2="31.8" y2="430" stroke="#5a5a5a" stroke-width="0.9"/>
<line x1="93.6" y1="423.1" x2="93.6" y2="390.7" stroke="#b4b4b4" stroke-width="0.8"/>
<line x1="204.5" y1="437" x2="206.8" y2="402.1" stroke="#b4b4b4" stroke-width="0.8"/>
<polygon points="34.6,470.1 175.6,496.3 204.5,437 93.6,423.1" fill="#2020aa"/>
<g stroke="#5656d0" stroke-width="0.5" stroke-opacity="0.4">
<line x1="34.6" y1="470.1" x2="175.6" y2="496.3"/>
<line x1="35.9" y1="469.06" x2="176.26" y2="494.95"/>
<line x1="37.19" y1="468.04" x2="176.91" y2="493.61"/>
<line x1="38.46" y1="467.03" x2="177.56" y2="492.29"/>
<line x1="39.72" y1="466.02" x2="178.19" y2="490.98"/>
<line x1="40.97" y1="465.03" x2="178.82" y2="489.69"/>
<line x1="42.2" y1="464.04" x2="179.44" y2="488.41"/>
<line x1="43.43" y1="463.07" x2="180.06" y2="487.15"/>
<line x1="44.64" y1="462.1" x2="180.67" y2="485.91"/>
<line x1="45.83" y1="461.15" x2="181.27" y2="484.67"/>
<line x1="47.02" y1="460.2" x2="181.86" y2="483.46"/>
<line x1="48.2" y1="459.27" x2="182.45" y2="482.25"/>
<line x1="49.36" y1="458.34" x2="183.03" y2="481.06"/>
<line x1="50.51" y1="457.42" x2="183.6" y2="479.88"/>
<line x1="51.65" y1="456.52" x2="184.17" y2="478.72"/>
<line x1="52.78" y1="455.62" x2="184.73" y2="477.56"/>
<line x1="53.9" y1="454.72" x2="185.29" y2="476.43"/>
<line x1="55.01" y1="453.84" x2="185.84" y2="475.3"/>
<line x1="56.11" y1="452.97" x2="186.38" y2="474.18"/>
<line x1="57.2" y1="452.1" x2="186.92" y2="473.08"/>
<line x1="58.27" y1="451.24" x2="187.45" y2="471.99"/>
<line x1="59.34" y1="450.39" x2="187.97" y2="470.91"/>
<line x1="60.4" y1="449.55" x2="188.49" y2="469.84"/>
<line x1="61.44" y1="448.72" x2="189.01" y2="468.79"/>
<line x1="62.48" y1="447.89" x2="189.52" y2="467.74"/>
<line x1="63.51" y1="447.07" x2="190.02" y2="466.71"/>
<line x1="64.53" y1="446.26" x2="190.52" y2="465.68"/>
<line x1="65.54" y1="445.45" x2="191.02" y2="464.67"/>
<line x1="66.54" y1="444.66" x2="191.5" y2="463.67"/>
<line x1="67.53" y1="443.87" x2="191.99" y2="462.67"/>
<line x1="68.51" y1="443.08" x2="192.47" y2="461.69"/>
<line x1="69.49" y1="442.31" x2="192.94" y2="460.72"/>
<line x1="70.45" y1="441.54" x2="193.41" y2="459.76"/>
<line x1="71.41" y1="440.78" x2="193.87" y2="458.8"/>
<line x1="72.36" y1="440.02" x2="194.33" y2="457.86"/>
<line x1="73.29" y1="439.28" x2="194.79" y2="456.93"/>
<line x1="74.23" y1="438.53" x2="195.24" y2="456"/>
<line x1="75.15" y1="437.8" x2="195.69" y2="455.09"/>
<line x1="76.06" y1="437.07" x2="196.13" y2="454.18"/>
<line x1="76.97" y1="436.35" x2="196.56" y2="453.28"/>
<line x1="77.87" y1="435.63" x2="197" y2="452.39"/>
<line x1="78.76" y1="434.92" x2="197.43" y2="451.51"/>
<line x1="79.65" y1="434.22" x2="197.85" y2="450.64"/>
<line x1="80.52" y1="433.52" x2="198.27" y2="449.78"/>
<line x1="81.39" y1="432.82" x2="198.69" y2="448.92"/>
<line x1="82.25" y1="432.14" x2="199.1" y2="448.07"/>
<line x1="83.11" y1="431.46" x2="199.51" y2="447.23"/>
<line x1="83.96" y1="430.78" x2="199.92" y2="446.4"/>
<line x1="84.8" y1="430.11" x2="200.32" y2="445.58"/>
<line x1="85.63" y1="429.45" x2="200.72" y2="444.76"/>
<line x1="86.46" y1="428.79" x2="201.11" y2="443.95"/>
<line x1="87.28" y1="428.14" x2="201.5" y2="443.15"/>
<line x1="88.09" y1="427.49" x2="201.89" y2="442.36"/>
<line x1="88.9" y1="426.85" x2="202.27" y2="441.57"/>
<line x1="89.7" y1="426.21" x2="202.65" y2="440.79"/>
<line x1="90.49" y1="425.58" x2="203.03" y2="440.02"/>
<line x1="91.28" y1="424.95" x2="203.4" y2="439.26"/>
<line x1="92.06" y1="424.33" x2="203.77" y2="438.5"/>
<line x1="92.83" y1="423.71" x2="204.14" y2="437.75"/>
<line x1="93.6" y1="423.1" x2="204.5" y2="437"/>
</g>
<g stroke="#7c7ce2" stroke-width="0.9" stroke-opacity="0.72">
<line x1="34.6" y1="470.1" x2="93.6" y2="423.1"/>
<line x1="36.67" y1="470.48" x2="95.29" y2="423.31"/>
<line x1="38.75" y1="470.87" x2="96.98" y2="423.52"/>
<line x1="40.84" y1="471.26" x2="98.68" y2="423.74"/>
<line x1="42.94" y1="471.65" x2="100.39" y2="423.95"/>
<line x1="45.05" y1="472.04" x2="102.1" y2="424.17"/>
<line x1="47.17" y1="472.44" x2="103.82" y2="424.38"/>
<line x1="49.3" y1="472.83" x2="105.54" y2="424.6"/>
<line x1="51.44" y1="473.23" x2="107.27" y2="424.81"/>
<line x1="53.59" y1="473.63" x2="109.01" y2="425.03"/>
<line x1="55.75" y1="474.03" x2="110.75" y2="425.25"/>
<line x1="57.91" y1="474.43" x2="112.5" y2="425.47"/>
<line x1="60.09" y1="474.84" x2="114.25" y2="425.69"/>
<line x1="62.28" y1="475.24" x2="116.01" y2="425.91"/>
<line x1="64.48" y1="475.65" x2="117.78" y2="426.13"/>
<line x1="66.7" y1="476.06" x2="119.56" y2="426.35"/>
<line x1="68.92" y1="476.48" x2="121.34" y2="426.58"/>
<line x1="71.15" y1="476.89" x2="123.12" y2="426.8"/>
<line x1="73.39" y1="477.31" x2="124.92" y2="427.03"/>
<line x1="75.64" y1="477.73" x2="126.72" y2="427.25"/>
<line x1="77.91" y1="478.15" x2="128.52" y2="427.48"/>
<line x1="80.18" y1="478.57" x2="130.34" y2="427.7"/>
<line x1="82.47" y1="479" x2="132.15" y2="427.93"/>
<line x1="84.77" y1="479.42" x2="133.98" y2="428.16"/>
<line x1="87.08" y1="479.85" x2="135.81" y2="428.39"/>
<line x1="89.4" y1="480.28" x2="137.65" y2="428.62"/>
<line x1="91.73" y1="480.72" x2="139.5" y2="428.85"/>
<line x1="94.07" y1="481.15" x2="141.35" y2="429.09"/>
<line x1="96.42" y1="481.59" x2="143.21" y2="429.32"/>
<line x1="98.79" y1="482.03" x2="145.08" y2="429.55"/>
<line x1="101.17" y1="482.47" x2="146.96" y2="429.79"/>
<line x1="103.55" y1="482.91" x2="148.84" y2="430.02"/>
<line x1="105.96" y1="483.36" x2="150.72" y2="430.26"/>
<line x1="108.37" y1="483.81" x2="152.62" y2="430.5"/>
<line x1="110.79" y1="484.26" x2="154.52" y2="430.74"/>
<line x1="113.23" y1="484.71" x2="156.43" y2="430.98"/>
<line x1="115.68" y1="485.17" x2="158.35" y2="431.22"/>
<line x1="118.14" y1="485.62" x2="160.27" y2="431.46"/>
<line x1="120.61" y1="486.08" x2="162.2" y2="431.7"/>
<line x1="123.1" y1="486.54" x2="164.14" y2="431.94"/>
<line x1="125.6" y1="487.01" x2="166.09" y2="432.19"/>
<line x1="128.11" y1="487.48" x2="168.04" y2="432.43"/>
<line x1="130.63" y1="487.94" x2="170" y2="432.68"/>
<line x1="133.17" y1="488.42" x2="171.97" y2="432.92"/>
<line x1="135.72" y1="488.89" x2="173.94" y2="433.17"/>
<line x1="138.29" y1="489.37" x2="175.92" y2="433.42"/>
<line x1="140.86" y1="489.85" x2="177.91" y2="433.67"/>
<line x1="143.45" y1="490.33" x2="179.91" y2="433.92"/>
<line x1="146.05" y1="490.81" x2="181.92" y2="434.17"/>
<line x1="148.67" y1="491.3" x2="183.93" y2="434.42"/>
<line x1="151.3" y1="491.78" x2="185.95" y2="434.68"/>
<line x1="153.94" y1="492.28" x2="187.98" y2="434.93"/>
<line x1="156.6" y1="492.77" x2="190.02" y2="435.18"/>
<line x1="159.27" y1="493.27" x2="192.06" y2="435.44"/>
<line x1="161.96" y1="493.77" x2="194.12" y2="435.7"/>
<line x1="164.66" y1="494.27" x2="196.18" y2="435.96"/>
<line x1="167.37" y1="494.77" x2="198.25" y2="436.22"/>
<line x1="170.1" y1="495.28" x2="200.32" y2="436.48"/>
<line x1="172.84" y1="495.79" x2="202.41" y2="436.74"/>
<line x1="175.6" y1="496.3" x2="204.5" y2="437"/>
</g>
<polygon points="90.2,426.7 95.8,426.7 95.5,430.8 90.5,430.8" fill="#0c0cdc"/>
<line x1="92.07" y1="427" x2="92.07" y2="430.8" stroke="#4a4ac8" stroke-width="0.6"/>
<line x1="93.93" y1="427" x2="93.93" y2="430.8" stroke="#4a4ac8" stroke-width="0.6"/>
<polygon points="89.25,427 89.36,425.57 89.47,424.13 89.58,422.7 96.42,422.7 96.53,424.13 96.64,425.57 96.75,427" fill="#1e90e6"/>
<polygon points="89.58,422.7 89.72,420.78 89.87,418.87 90.02,416.95 95.98,416.95 96.13,418.87 96.28,420.78 96.42,422.7" fill="#1ee0e0"/>
<polygon points="90.02,416.95 90.13,415.6 90.24,414.25 90.35,412.9 95.65,412.9 95.76,414.25 95.87,415.6 95.98,416.95" fill="#28d84c"/>
<polygon points="90.35,412.9 90.45,411.66 90.56,410.43 90.66,409.19 95.34,409.19 95.44,410.43 95.55,411.66 95.65,412.9" fill="#44de28"/>
<polygon points="90.66,409.19 90.79,407.72 90.92,406.26 91.05,404.8 94.95,404.8 95.08,406.26 95.21,407.72 95.34,409.19" fill="#ecec1e"/>
<polygon points="91.05,404.8 91.21,403.11 91.37,401.42 91.54,399.73 94.46,399.73 94.63,401.42 94.79,403.11 94.95,404.8" fill="#f29418"/>
<polygon points="91.54,399.73 91.65,398.79 91.76,397.84 91.9,396.9 94.1,396.9 94.24,397.84 94.35,398.79 94.46,399.73" fill="#e41c14"/>
<polyline points="89.25,427 89.63,421.98 90.02,416.97 90.43,411.95 90.86,406.93 91.32,401.92 91.9,396.9 94.1,396.9 94.68,401.92 95.14,406.93 95.57,411.95 95.98,416.97 96.37,421.98 96.75,427" fill="none" stroke="#8c8ca6" stroke-width="0.5" stroke-opacity="0.6"/>
<polygon points="178.47,457.4 185.13,457.4 184.83,462.7 178.77,462.7" fill="#0c0cdc"/>
<line x1="180.69" y1="457.7" x2="180.69" y2="462.7" stroke="#4a4ac8" stroke-width="0.6"/>
<line x1="182.91" y1="457.7" x2="182.91" y2="462.7" stroke="#4a4ac8" stroke-width="0.6"/>
<polygon points="176.9,457.7 177,456.3 177.09,454.9 177.19,453.5 186.41,453.5 186.51,454.9 186.6,456.3 186.7,457.7" fill="#1e90e6"/>
<polygon points="177.19,453.5 177.35,451.33 177.5,449.16 177.66,446.99 185.94,446.99 186.1,449.16 186.25,451.33 186.41,453.5" fill="#1ee0e0"/>
<polygon points="177.66,446.99 177.77,445.46 177.88,443.93 178,442.39 185.6,442.39 185.72,443.93 185.83,445.46 185.94,446.99" fill="#28d84c"/>
<polygon points="178,442.39 178.1,440.99 178.21,439.58 178.32,438.18 185.28,438.18 185.39,439.58 185.5,440.99 185.6,442.39" fill="#44de28"/>
<polygon points="178.32,438.18 178.45,436.52 178.58,434.86 178.72,433.2 184.88,433.2 185.02,434.86 185.15,436.52 185.28,438.18" fill="#ecec1e"/>
<polygon points="178.72,433.2 178.88,431.28 179.04,429.37 179.21,427.45 184.39,427.45 184.56,429.37 184.72,431.28 184.88,433.2" fill="#f29418"/>
<polygon points="179.21,427.45 179.36,425.92 179.51,424.39 179.68,422.85 183.92,422.85 184.09,424.39 184.24,425.92 184.39,427.45" fill="#e41c14"/>
<polygon points="179.68,422.85 179.71,422.57 179.75,422.28 179.8,422 183.8,422 183.85,422.28 183.89,422.57 183.92,422.85" fill="#8a3020"/>
<polyline points="176.9,457.7 177.32,451.75 177.75,445.8 178.19,439.85 178.66,433.9 179.17,427.95 179.8,422 183.8,422 184.43,427.95 184.94,433.9 185.41,439.85 185.85,445.8 186.28,451.75 186.7,457.7" fill="none" stroke="#8c8ca6" stroke-width="0.5" stroke-opacity="0.6"/>
<polygon points="70.87,463.9 77.33,463.9 77.03,468.5 71.17,468.5" fill="#0c0cdc"/>
<line x1="73.02" y1="464.2" x2="73.02" y2="468.5" stroke="#4a4ac8" stroke-width="0.6"/>
<line x1="75.18" y1="464.2" x2="75.18" y2="468.5" stroke="#4a4ac8" stroke-width="0.6"/>
<polygon points="69.35,464.2 69.49,462.5 69.62,460.8 69.76,459.11 78.44,459.11 78.58,460.8 78.71,462.5 78.85,464.2" fill="#1e90e6"/>
<polygon points="69.76,459.11 69.94,456.89 70.13,454.67 70.32,452.45 77.88,452.45 78.07,454.67 78.26,456.89 78.44,459.11" fill="#1ee0e0"/>
<polygon points="70.32,452.45 70.45,450.89 70.58,449.32 70.72,447.76 77.48,447.76 77.62,449.32 77.75,450.89 77.88,452.45" fill="#28d84c"/>
<polygon points="70.72,447.76 70.84,446.32 70.97,444.88 71.1,443.45 77.1,443.45 77.23,444.88 77.36,446.32 77.48,447.76" fill="#44de28"/>
<polygon points="71.1,443.45 71.26,441.75 71.41,440.06 71.57,438.36 76.63,438.36 76.79,440.06 76.94,441.75 77.1,443.45" fill="#ecec1e"/>
<polygon points="71.57,438.36 71.76,436.4 71.96,434.45 72.16,432.49 76.04,432.49 76.24,434.45 76.44,436.4 76.63,438.36" fill="#f29418"/>
<polygon points="72.16,432.49 72.33,430.92 72.51,429.36 72.72,427.79 75.48,427.79 75.69,429.36 75.87,430.92 76.04,432.49" fill="#e41c14"/>
<polygon points="72.72,427.79 72.76,427.53 72.8,427.26 72.85,427 75.35,427 75.4,427.26 75.44,427.53 75.48,427.79" fill="#8a3020"/>
<polyline points="69.35,464.2 69.85,458 70.37,451.8 70.91,445.6 71.47,439.4 72.09,433.2 72.85,427 75.35,427 76.11,433.2 76.73,439.4 77.29,445.6 77.83,451.8 78.35,458 78.85,464.2" fill="none" stroke="#8c8ca6" stroke-width="0.5" stroke-opacity="0.6"/>
<polygon points="105.27,469.4 111.73,469.4 111.43,474.3 105.57,474.3" fill="#0c0cdc"/>
<line x1="107.42" y1="469.7" x2="107.42" y2="474.3" stroke="#4a4ac8" stroke-width="0.6"/>
<line x1="109.58" y1="469.7" x2="109.58" y2="474.3" stroke="#4a4ac8" stroke-width="0.6"/>
<polygon points="103.75,469.7 103.88,468.04 104.01,466.37 104.15,464.71 112.85,464.71 112.99,466.37 113.12,468.04 113.25,469.7" fill="#1e90e6"/>
<polygon points="104.15,464.71 104.33,462.44 104.52,460.18 104.71,457.91 112.29,457.91 112.48,460.18 112.67,462.44 112.85,464.71" fill="#1ee0e0"/>
<polygon points="104.71,457.91 104.84,456.31 104.97,454.72 105.11,453.12 111.89,453.12 112.03,454.72 112.16,456.31 112.29,457.91" fill="#28d84c"/>
<polygon points="105.11,453.12 105.24,451.65 105.37,450.19 105.5,448.72 111.5,448.72 111.63,450.19 111.76,451.65 111.89,453.12" fill="#44de28"/>
<polygon points="105.5,448.72 105.65,446.99 105.81,445.26 105.97,443.53 111.03,443.53 111.19,445.26 111.35,446.99 111.5,448.72" fill="#ecec1e"/>
<polygon points="105.97,443.53 106.16,441.53 106.36,439.53 106.57,437.53 110.43,437.53 110.64,439.53 110.84,441.53 111.03,443.53" fill="#f29418"/>
<polygon points="106.57,437.53 106.74,435.93 106.92,434.33 107.13,432.73 109.87,432.73 110.08,434.33 110.26,435.93 110.43,437.53" fill="#e41c14"/>
<polygon points="107.13,432.73 107.16,432.49 107.2,432.24 107.25,432 109.75,432 109.8,432.24 109.84,432.49 109.87,432.73" fill="#8a3020"/>
<polyline points="103.75,469.7 104.25,463.42 104.77,457.13 105.31,450.85 105.87,444.57 106.49,438.28 107.25,432 109.75,432 110.51,438.28 111.13,444.57 111.69,450.85 112.23,457.13 112.75,463.42 113.25,469.7" fill="none" stroke="#8c8ca6" stroke-width="0.5" stroke-opacity="0.6"/>
<polygon points="136.2,480.7 143,480.7 142.7,486.8 136.5,486.8" fill="#0c0cdc"/>
<line x1="138.47" y1="481" x2="138.47" y2="486.8" stroke="#4a4ac8" stroke-width="0.6"/>
<line x1="140.73" y1="481" x2="140.73" y2="486.8" stroke="#4a4ac8" stroke-width="0.6"/>
<polygon points="134.6,481 134.71,479.59 134.81,478.19 134.92,476.78 144.28,476.78 144.39,478.19 144.49,479.59 144.6,481" fill="#1e90e6"/>
<polygon points="134.92,476.78 135.1,474.41 135.29,472.05 135.48,469.68 143.72,469.68 143.91,472.05 144.1,474.41 144.28,476.78" fill="#1ee0e0"/>
<polygon points="135.48,469.68 135.61,468.01 135.74,466.34 135.88,464.67 143.32,464.67 143.46,466.34 143.59,468.01 143.72,469.68" fill="#28d84c"/>
<polygon points="135.88,464.67 136,463.14 136.13,461.61 136.26,460.08 142.94,460.08 143.07,461.61 143.2,463.14 143.32,464.67" fill="#44de28"/>
<polygon points="136.26,460.08 136.42,458.27 136.57,456.46 136.73,454.65 142.47,454.65 142.63,456.46 142.78,458.27 142.94,460.08" fill="#ecec1e"/>
<polygon points="136.73,454.65 136.92,452.57 137.11,450.48 137.31,448.39 141.89,448.39 142.09,450.48 142.28,452.57 142.47,454.65" fill="#f29418"/>
<polygon points="137.31,448.39 137.48,446.72 137.66,445.05 137.85,443.38 141.35,443.38 141.54,445.05 141.72,446.72 141.89,448.39" fill="#e41c14"/>
<polygon points="137.85,443.38 137.92,442.79 138,442.19 138.1,441.6 141.1,441.6 141.2,442.19 141.28,442.79 141.35,443.38" fill="#8a3020"/>
<polyline points="134.6,481 135.1,474.43 135.62,467.87 136.16,461.3 136.72,454.73 137.34,448.17 138.1,441.6 141.1,441.6 141.86,448.17 142.48,454.73 143.04,461.3 143.58,467.87 144.1,474.43 144.6,481" fill="none" stroke="#8c8ca6" stroke-width="0.5" stroke-opacity="0.6"/>
<text x="30.9" y="474.5" font-size="8.1" text-anchor="end" fill="#0a0a0a" stroke="#0a0a0a" stroke-width="0.28">0,0</text>
<text x="29.97" y="461.13" font-size="8.1" text-anchor="end" fill="#0a0a0a" stroke="#0a0a0a" stroke-width="0.28">0,2</text>
<text x="29.03" y="447.77" font-size="8.1" text-anchor="end" fill="#0a0a0a" stroke="#0a0a0a" stroke-width="0.28">0,4</text>
<text x="28.1" y="434.4" font-size="8.1" text-anchor="end" fill="#0a0a0a" stroke="#0a0a0a" stroke-width="0.28">0,6</text>
<text x="11.3" y="453" font-size="8.4" text-anchor="middle" fill="#0a0a0a" stroke="#0a0a0a" stroke-width="0.28" transform="rotate(-94 11.3 453)">Neuron activity</text>
<text x="47.5" y="484" font-size="8.9" text-anchor="middle" fill="#0a0a0a" stroke="#0a0a0a" stroke-width="0.28">10</text>
<text x="70.3" y="488.6" font-size="8.9" text-anchor="middle" fill="#0a0a0a" stroke="#0a0a0a" stroke-width="0.28">20</text>
<text x="94.7" y="493.6" font-size="8.9" text-anchor="middle" fill="#0a0a0a" stroke="#0a0a0a" stroke-width="0.28">30</text>
<text x="120.1" y="498.2" font-size="8.9" text-anchor="middle" fill="#0a0a0a" stroke="#0a0a0a" stroke-width="0.28">40</text>
<text x="146.2" y="503.5" font-size="8.9" text-anchor="middle" fill="#0a0a0a" stroke="#0a0a0a" stroke-width="0.28">50</text>
<text x="174.4" y="508.1" font-size="8.9" text-anchor="middle" fill="#0a0a0a" stroke="#0a0a0a" stroke-width="0.28">60</text>
<text x="187.8" y="497.9" font-size="8.9" text-anchor="middle" fill="#0a0a0a" stroke="#0a0a0a" stroke-width="0.28">10</text>
<text x="193.6" y="485.9" font-size="8.9" text-anchor="middle" fill="#0a0a0a" stroke="#0a0a0a" stroke-width="0.28">20</text>
<text x="198.6" y="474.8" font-size="8.9" text-anchor="middle" fill="#0a0a0a" stroke="#0a0a0a" stroke-width="0.28">30</text>
<text x="203.2" y="464.8" font-size="8.9" text-anchor="middle" fill="#0a0a0a" stroke="#0a0a0a" stroke-width="0.28">40</text>
<text x="207.4" y="455.7" font-size="8.9" text-anchor="middle" fill="#0a0a0a" stroke="#0a0a0a" stroke-width="0.28">50</text>
<text x="211.3" y="447" font-size="8.9" text-anchor="middle" fill="#0a0a0a" stroke="#0a0a0a" stroke-width="0.28">60</text>
</g>
<g>
<line x1="45.83" y1="591.05" x2="43.74" y2="552.31" stroke="#d0d0d0" stroke-width="0.75"/>
<line x1="109.01" y1="554.93" x2="109.16" y2="522.17" stroke="#d0d0d0" stroke-width="0.75"/>
<line x1="57.2" y1="582" x2="55.73" y2="544.68" stroke="#d0d0d0" stroke-width="0.75"/>
<line x1="126.72" y1="557.15" x2="127.12" y2="523.98" stroke="#d0d0d0" stroke-width="0.75"/>
<line x1="67.53" y1="573.77" x2="66.56" y2="537.79" stroke="#d0d0d0" stroke-width="0.75"/>
<line x1="145.08" y1="559.45" x2="145.81" y2="525.86" stroke="#d0d0d0" stroke-width="0.75"/>
<line x1="76.97" y1="566.25" x2="76.4" y2="531.53" stroke="#d0d0d0" stroke-width="0.75"/>
<line x1="164.14" y1="561.84" x2="165.29" y2="527.82" stroke="#d0d0d0" stroke-width="0.75"/>
<line x1="85.63" y1="559.35" x2="85.38" y2="525.83" stroke="#d0d0d0" stroke-width="0.75"/>
<line x1="183.93" y1="564.32" x2="185.6" y2="529.86" stroke="#d0d0d0" stroke-width="0.75"/>
<line x1="93.6" y1="553" x2="93.6" y2="520.6" stroke="#d0d0d0" stroke-width="0.75"/>
<line x1="204.5" y1="566.9" x2="206.8" y2="532" stroke="#d0d0d0" stroke-width="0.75"/>
<polyline points="33.67,586.63 93.6,542.2 205.27,555.27" fill="none" stroke="#d0d0d0" stroke-width="0.75"/>
<polyline points="32.73,573.27 93.6,531.4 206.03,543.63" fill="none" stroke="#d0d0d0" stroke-width="0.75"/>
<polyline points="31.8,559.9 93.6,520.6 206.8,532" fill="none" stroke="#c4c4c4" stroke-width="0.8"/>
<polyline points="31.8,559.9 93.6,520.6 206.8,532" fill="none" stroke="#808080" stroke-width="0.8" stroke-dasharray="1.3 2.1"/>
<line x1="34.6" y1="600" x2="31.8" y2="559.9" stroke="#5a5a5a" stroke-width="0.9"/>
<line x1="93.6" y1="553" x2="93.6" y2="520.6" stroke="#b4b4b4" stroke-width="0.8"/>
<line x1="204.5" y1="566.9" x2="206.8" y2="532" stroke="#b4b4b4" stroke-width="0.8"/>
<polygon points="34.6,600 175.6,626.2 204.5,566.9 93.6,553" fill="#2020aa"/>
<g stroke="#5656d0" stroke-width="0.5" stroke-opacity="0.4">
<line x1="34.6" y1="600" x2="175.6" y2="626.2"/>
<line x1="35.9" y1="598.96" x2="176.26" y2="624.85"/>
<line x1="37.19" y1="597.94" x2="176.91" y2="623.51"/>
<line x1="38.46" y1="596.93" x2="177.56" y2="622.19"/>
<line x1="39.72" y1="595.92" x2="178.19" y2="620.88"/>
<line x1="40.97" y1="594.93" x2="178.82" y2="619.59"/>
<line x1="42.2" y1="593.94" x2="179.44" y2="618.31"/>
<line x1="43.43" y1="592.97" x2="180.06" y2="617.05"/>
<line x1="44.64" y1="592" x2="180.67" y2="615.81"/>
<line x1="45.83" y1="591.05" x2="181.27" y2="614.57"/>
<line x1="47.02" y1="590.1" x2="181.86" y2="613.36"/>
<line x1="48.2" y1="589.17" x2="182.45" y2="612.15"/>
<line x1="49.36" y1="588.24" x2="183.03" y2="610.96"/>
<line x1="50.51" y1="587.32" x2="183.6" y2="609.78"/>
<line x1="51.65" y1="586.42" x2="184.17" y2="608.62"/>
<line x1="52.78" y1="585.52" x2="184.73" y2="607.46"/>
<line x1="53.9" y1="584.62" x2="185.29" y2="606.33"/>
<line x1="55.01" y1="583.74" x2="185.84" y2="605.2"/>
<line x1="56.11" y1="582.87" x2="186.38" y2="604.08"/>
<line x1="57.2" y1="582" x2="186.92" y2="602.98"/>
<line x1="58.27" y1="581.14" x2="187.45" y2="601.89"/>
<line x1="59.34" y1="580.29" x2="187.97" y2="600.81"/>
<line x1="60.4" y1="579.45" x2="188.49" y2="599.74"/>
<line x1="61.44" y1="578.62" x2="189.01" y2="598.69"/>
<line x1="62.48" y1="577.79" x2="189.52" y2="597.64"/>
<line x1="63.51" y1="576.97" x2="190.02" y2="596.61"/>
<line x1="64.53" y1="576.16" x2="190.52" y2="595.58"/>
<line x1="65.54" y1="575.35" x2="191.02" y2="594.57"/>
<line x1="66.54" y1="574.56" x2="191.5" y2="593.57"/>
<line x1="67.53" y1="573.77" x2="191.99" y2="592.57"/>
<line x1="68.51" y1="572.98" x2="192.47" y2="591.59"/>
<line x1="69.49" y1="572.21" x2="192.94" y2="590.62"/>
<line x1="70.45" y1="571.44" x2="193.41" y2="589.66"/>
<line x1="71.41" y1="570.68" x2="193.87" y2="588.7"/>
<line x1="72.36" y1="569.92" x2="194.33" y2="587.76"/>
<line x1="73.29" y1="569.18" x2="194.79" y2="586.83"/>
<line x1="74.23" y1="568.43" x2="195.24" y2="585.9"/>
<line x1="75.15" y1="567.7" x2="195.69" y2="584.99"/>
<line x1="76.06" y1="566.97" x2="196.13" y2="584.08"/>
<line x1="76.97" y1="566.25" x2="196.56" y2="583.18"/>
<line x1="77.87" y1="565.53" x2="197" y2="582.29"/>
<line x1="78.76" y1="564.82" x2="197.43" y2="581.41"/>
<line x1="79.65" y1="564.12" x2="197.85" y2="580.54"/>
<line x1="80.52" y1="563.42" x2="198.27" y2="579.68"/>
<line x1="81.39" y1="562.72" x2="198.69" y2="578.82"/>
<line x1="82.25" y1="562.04" x2="199.1" y2="577.97"/>
<line x1="83.11" y1="561.36" x2="199.51" y2="577.13"/>
<line x1="83.96" y1="560.68" x2="199.92" y2="576.3"/>
<line x1="84.8" y1="560.01" x2="200.32" y2="575.48"/>
<line x1="85.63" y1="559.35" x2="200.72" y2="574.66"/>
<line x1="86.46" y1="558.69" x2="201.11" y2="573.85"/>
<line x1="87.28" y1="558.04" x2="201.5" y2="573.05"/>
<line x1="88.09" y1="557.39" x2="201.89" y2="572.26"/>
<line x1="88.9" y1="556.75" x2="202.27" y2="571.47"/>
<line x1="89.7" y1="556.11" x2="202.65" y2="570.69"/>
<line x1="90.49" y1="555.48" x2="203.03" y2="569.92"/>
<line x1="91.28" y1="554.85" x2="203.4" y2="569.16"/>
<line x1="92.06" y1="554.23" x2="203.77" y2="568.4"/>
<line x1="92.83" y1="553.61" x2="204.14" y2="567.65"/>
<line x1="93.6" y1="553" x2="204.5" y2="566.9"/>
</g>
<g stroke="#7c7ce2" stroke-width="0.9" stroke-opacity="0.72">
<line x1="34.6" y1="600" x2="93.6" y2="553"/>
<line x1="36.67" y1="600.38" x2="95.29" y2="553.21"/>
<line x1="38.75" y1="600.77" x2="96.98" y2="553.42"/>
<line x1="40.84" y1="601.16" x2="98.68" y2="553.64"/>
<line x1="42.94" y1="601.55" x2="100.39" y2="553.85"/>
<line x1="45.05" y1="601.94" x2="102.1" y2="554.07"/>
<line x1="47.17" y1="602.34" x2="103.82" y2="554.28"/>
<line x1="49.3" y1="602.73" x2="105.54" y2="554.5"/>
<line x1="51.44" y1="603.13" x2="107.27" y2="554.71"/>
<line x1="53.59" y1="603.53" x2="109.01" y2="554.93"/>
<line x1="55.75" y1="603.93" x2="110.75" y2="555.15"/>
<line x1="57.91" y1="604.33" x2="112.5" y2="555.37"/>
<line x1="60.09" y1="604.74" x2="114.25" y2="555.59"/>
<line x1="62.28" y1="605.14" x2="116.01" y2="555.81"/>
<line x1="64.48" y1="605.55" x2="117.78" y2="556.03"/>
<line x1="66.7" y1="605.96" x2="119.56" y2="556.25"/>
<line x1="68.92" y1="606.38" x2="121.34" y2="556.48"/>
<line x1="71.15" y1="606.79" x2="123.12" y2="556.7"/>
<line x1="73.39" y1="607.21" x2="124.92" y2="556.93"/>
<line x1="75.64" y1="607.63" x2="126.72" y2="557.15"/>
<line x1="77.91" y1="608.05" x2="128.52" y2="557.38"/>
<line x1="80.18" y1="608.47" x2="130.34" y2="557.6"/>
<line x1="82.47" y1="608.9" x2="132.15" y2="557.83"/>
<line x1="84.77" y1="609.32" x2="133.98" y2="558.06"/>
<line x1="87.08" y1="609.75" x2="135.81" y2="558.29"/>
<line x1="89.4" y1="610.18" x2="137.65" y2="558.52"/>
<line x1="91.73" y1="610.62" x2="139.5" y2="558.75"/>
<line x1="94.07" y1="611.05" x2="141.35" y2="558.99"/>
<line x1="96.42" y1="611.49" x2="143.21" y2="559.22"/>
<line x1="98.79" y1="611.93" x2="145.08" y2="559.45"/>
<line x1="101.17" y1="612.37" x2="146.96" y2="559.69"/>
<line x1="103.55" y1="612.81" x2="148.84" y2="559.92"/>
<line x1="105.96" y1="613.26" x2="150.72" y2="560.16"/>
<line x1="108.37" y1="613.71" x2="152.62" y2="560.4"/>
<line x1="110.79" y1="614.16" x2="154.52" y2="560.64"/>
<line x1="113.23" y1="614.61" x2="156.43" y2="560.88"/>
<line x1="115.68" y1="615.07" x2="158.35" y2="561.12"/>
<line x1="118.14" y1="615.52" x2="160.27" y2="561.36"/>
<line x1="120.61" y1="615.98" x2="162.2" y2="561.6"/>
<line x1="123.1" y1="616.44" x2="164.14" y2="561.84"/>
<line x1="125.6" y1="616.91" x2="166.09" y2="562.09"/>
<line x1="128.11" y1="617.38" x2="168.04" y2="562.33"/>
<line x1="130.63" y1="617.84" x2="170" y2="562.58"/>
<line x1="133.17" y1="618.32" x2="171.97" y2="562.82"/>
<line x1="135.72" y1="618.79" x2="173.94" y2="563.07"/>
<line x1="138.29" y1="619.27" x2="175.92" y2="563.32"/>
<line x1="140.86" y1="619.75" x2="177.91" y2="563.57"/>
<line x1="143.45" y1="620.23" x2="179.91" y2="563.82"/>
<line x1="146.05" y1="620.71" x2="181.92" y2="564.07"/>
<line x1="148.67" y1="621.2" x2="183.93" y2="564.32"/>
<line x1="151.3" y1="621.68" x2="185.95" y2="564.58"/>
<line x1="153.94" y1="622.18" x2="187.98" y2="564.83"/>
<line x1="156.6" y1="622.67" x2="190.02" y2="565.08"/>
<line x1="159.27" y1="623.17" x2="192.06" y2="565.34"/>
<line x1="161.96" y1="623.67" x2="194.12" y2="565.6"/>
<line x1="164.66" y1="624.17" x2="196.18" y2="565.86"/>
<line x1="167.37" y1="624.67" x2="198.25" y2="566.12"/>
<line x1="170.1" y1="625.18" x2="200.32" y2="566.38"/>
<line x1="172.84" y1="625.69" x2="202.41" y2="566.64"/>
<line x1="175.6" y1="626.2" x2="204.5" y2="566.9"/>
</g>
<polygon points="90.2,556.6 95.8,556.6 95.5,560.7 90.5,560.7" fill="#0c0cdc"/>
<line x1="92.07" y1="556.9" x2="92.07" y2="560.7" stroke="#4a4ac8" stroke-width="0.6"/>
<line x1="93.93" y1="556.9" x2="93.93" y2="560.7" stroke="#4a4ac8" stroke-width="0.6"/>
<polygon points="89.25,556.9 89.36,555.47 89.47,554.03 89.58,552.6 96.42,552.6 96.53,554.03 96.64,555.47 96.75,556.9" fill="#1e90e6"/>
<polygon points="89.58,552.6 89.72,550.68 89.87,548.77 90.02,546.85 95.98,546.85 96.13,548.77 96.28,550.68 96.42,552.6" fill="#1ee0e0"/>
<polygon points="90.02,546.85 90.13,545.5 90.24,544.15 90.35,542.8 95.65,542.8 95.76,544.15 95.87,545.5 95.98,546.85" fill="#28d84c"/>
<polygon points="90.35,542.8 90.45,541.56 90.56,540.33 90.66,539.09 95.34,539.09 95.44,540.33 95.55,541.56 95.65,542.8" fill="#44de28"/>
<polygon points="90.66,539.09 90.79,537.62 90.92,536.16 91.05,534.7 94.95,534.7 95.08,536.16 95.21,537.62 95.34,539.09" fill="#ecec1e"/>
<polygon points="91.05,534.7 91.21,533.01 91.37,531.32 91.54,529.63 94.46,529.63 94.63,531.32 94.79,533.01 94.95,534.7" fill="#f29418"/>
<polygon points="91.54,529.63 91.65,528.69 91.76,527.74 91.9,526.8 94.1,526.8 94.24,527.74 94.35,528.69 94.46,529.63" fill="#e41c14"/>
<polyline points="89.25,556.9 89.63,551.88 90.02,546.87 90.43,541.85 90.86,536.83 91.32,531.82 91.9,526.8 94.1,526.8 94.68,531.82 95.14,536.83 95.57,541.85 95.98,546.87 96.37,551.88 96.75,556.9" fill="none" stroke="#8c8ca6" stroke-width="0.5" stroke-opacity="0.6"/>
<polygon points="178.47,587.3 185.13,587.3 184.83,592.6 178.77,592.6" fill="#0c0cdc"/>
<line x1="180.69" y1="587.6" x2="180.69" y2="592.6" stroke="#4a4ac8" stroke-width="0.6"/>
<line x1="182.91" y1="587.6" x2="182.91" y2="592.6" stroke="#4a4ac8" stroke-width="0.6"/>
<polygon points="176.9,587.6 177,586.2 177.09,584.8 177.19,583.4 186.41,583.4 186.51,584.8 186.6,586.2 186.7,587.6" fill="#1e90e6"/>
<polygon points="177.19,583.4 177.35,581.23 177.5,579.06 177.66,576.89 185.94,576.89 186.1,579.06 186.25,581.23 186.41,583.4" fill="#1ee0e0"/>
<polygon points="177.66,576.89 177.77,575.36 177.88,573.83 178,572.29 185.6,572.29 185.72,573.83 185.83,575.36 185.94,576.89" fill="#28d84c"/>
<polygon points="178,572.29 178.1,570.89 178.21,569.48 178.32,568.08 185.28,568.08 185.39,569.48 185.5,570.89 185.6,572.29" fill="#44de28"/>
<polygon points="178.32,568.08 178.45,566.42 178.58,564.76 178.72,563.1 184.88,563.1 185.02,564.76 185.15,566.42 185.28,568.08" fill="#ecec1e"/>
<polygon points="178.72,563.1 178.88,561.18 179.04,559.27 179.21,557.35 184.39,557.35 184.56,559.27 184.72,561.18 184.88,563.1" fill="#f29418"/>
<polygon points="179.21,557.35 179.36,555.82 179.51,554.29 179.68,552.75 183.92,552.75 184.09,554.29 184.24,555.82 184.39,557.35" fill="#e41c14"/>
<polygon points="179.68,552.75 179.71,552.47 179.75,552.18 179.8,551.9 183.8,551.9 183.85,552.18 183.89,552.47 183.92,552.75" fill="#8a3020"/>
<polyline points="176.9,587.6 177.32,581.65 177.75,575.7 178.19,569.75 178.66,563.8 179.17,557.85 179.8,551.9 183.8,551.9 184.43,557.85 184.94,563.8 185.41,569.75 185.85,575.7 186.28,581.65 186.7,587.6" fill="none" stroke="#8c8ca6" stroke-width="0.5" stroke-opacity="0.6"/>
<polygon points="70.87,593.8 77.33,593.8 77.03,598.4 71.17,598.4" fill="#0c0cdc"/>
<line x1="73.02" y1="594.1" x2="73.02" y2="598.4" stroke="#4a4ac8" stroke-width="0.6"/>
<line x1="75.18" y1="594.1" x2="75.18" y2="598.4" stroke="#4a4ac8" stroke-width="0.6"/>
<polygon points="69.35,594.1 69.49,592.4 69.62,590.7 69.76,589.01 78.44,589.01 78.58,590.7 78.71,592.4 78.85,594.1" fill="#1e90e6"/>
<polygon points="69.76,589.01 69.94,586.79 70.13,584.57 70.32,582.35 77.88,582.35 78.07,584.57 78.26,586.79 78.44,589.01" fill="#1ee0e0"/>
<polygon points="70.32,582.35 70.45,580.79 70.58,579.22 70.72,577.66 77.48,577.66 77.62,579.22 77.75,580.79 77.88,582.35" fill="#28d84c"/>
<polygon points="70.72,577.66 70.84,576.22 70.97,574.78 71.1,573.35 77.1,573.35 77.23,574.78 77.36,576.22 77.48,577.66" fill="#44de28"/>
<polygon points="71.1,573.35 71.26,571.65 71.41,569.96 71.57,568.26 76.63,568.26 76.79,569.96 76.94,571.65 77.1,573.35" fill="#ecec1e"/>
<polygon points="71.57,568.26 71.76,566.3 71.96,564.35 72.16,562.39 76.04,562.39 76.24,564.35 76.44,566.3 76.63,568.26" fill="#f29418"/>
<polygon points="72.16,562.39 72.33,560.82 72.51,559.26 72.72,557.69 75.48,557.69 75.69,559.26 75.87,560.82 76.04,562.39" fill="#e41c14"/>
<polygon points="72.72,557.69 72.76,557.43 72.8,557.16 72.85,556.9 75.35,556.9 75.4,557.16 75.44,557.43 75.48,557.69" fill="#8a3020"/>
<polyline points="69.35,594.1 69.85,587.9 70.37,581.7 70.91,575.5 71.47,569.3 72.09,563.1 72.85,556.9 75.35,556.9 76.11,563.1 76.73,569.3 77.29,575.5 77.83,581.7 78.35,587.9 78.85,594.1" fill="none" stroke="#8c8ca6" stroke-width="0.5" stroke-opacity="0.6"/>
<polygon points="105.27,599.3 111.73,599.3 111.43,604.2 105.57,604.2" fill="#0c0cdc"/>
<line x1="107.42" y1="599.6" x2="107.42" y2="604.2" stroke="#4a4ac8" stroke-width="0.6"/>
<line x1="109.58" y1="599.6" x2="109.58" y2="604.2" stroke="#4a4ac8" stroke-width="0.6"/>
<polygon points="103.75,599.6 103.88,597.94 104.01,596.27 104.15,594.61 112.85,594.61 112.99,596.27 113.12,597.94 113.25,599.6" fill="#1e90e6"/>
<polygon points="104.15,594.61 104.33,592.34 104.52,590.08 104.71,587.81 112.29,587.81 112.48,590.08 112.67,592.34 112.85,594.61" fill="#1ee0e0"/>
<polygon points="104.71,587.81 104.84,586.21 104.97,584.62 105.11,583.02 111.89,583.02 112.03,584.62 112.16,586.21 112.29,587.81" fill="#28d84c"/>
<polygon points="105.11,583.02 105.24,581.55 105.37,580.09 105.5,578.62 111.5,578.62 111.63,580.09 111.76,581.55 111.89,583.02" fill="#44de28"/>
<polygon points="105.5,578.62 105.65,576.89 105.81,575.16 105.97,573.43 111.03,573.43 111.19,575.16 111.35,576.89 111.5,578.62" fill="#ecec1e"/>
<polygon points="105.97,573.43 106.16,571.43 106.36,569.43 106.57,567.43 110.43,567.43 110.64,569.43 110.84,571.43 111.03,573.43" fill="#f29418"/>
<polygon points="106.57,567.43 106.74,565.83 106.92,564.23 107.13,562.63 109.87,562.63 110.08,564.23 110.26,565.83 110.43,567.43" fill="#e41c14"/>
<polygon points="107.13,562.63 107.16,562.39 107.2,562.14 107.25,561.9 109.75,561.9 109.8,562.14 109.84,562.39 109.87,562.63" fill="#8a3020"/>
<polyline points="103.75,599.6 104.25,593.32 104.77,587.03 105.31,580.75 105.87,574.47 106.49,568.18 107.25,561.9 109.75,561.9 110.51,568.18 111.13,574.47 111.69,580.75 112.23,587.03 112.75,593.32 113.25,599.6" fill="none" stroke="#8c8ca6" stroke-width="0.5" stroke-opacity="0.6"/>
<polygon points="136.2,610.6 143,610.6 142.7,616.7 136.5,616.7" fill="#0c0cdc"/>
<line x1="138.47" y1="610.9" x2="138.47" y2="616.7" stroke="#4a4ac8" stroke-width="0.6"/>
<line x1="140.73" y1="610.9" x2="140.73" y2="616.7" stroke="#4a4ac8" stroke-width="0.6"/>
<polygon points="134.6,610.9 134.71,609.49 134.81,608.09 134.92,606.68 144.28,606.68 144.39,608.09 144.49,609.49 144.6,610.9" fill="#1e90e6"/>
<polygon points="134.92,606.68 135.1,604.31 135.29,601.95 135.48,599.58 143.72,599.58 143.91,601.95 144.1,604.31 144.28,606.68" fill="#1ee0e0"/>
<polygon points="135.48,599.58 135.61,597.91 135.74,596.24 135.88,594.57 143.32,594.57 143.46,596.24 143.59,597.91 143.72,599.58" fill="#28d84c"/>
<polygon points="135.88,594.57 136,593.04 136.13,591.51 136.26,589.98 142.94,589.98 143.07,591.51 143.2,593.04 143.32,594.57" fill="#44de28"/>
<polygon points="136.26,589.98 136.42,588.17 136.57,586.36 136.73,584.55 142.47,584.55 142.63,586.36 142.78,588.17 142.94,589.98" fill="#ecec1e"/>
<polygon points="136.73,584.55 136.92,582.47 137.11,580.38 137.31,578.29 141.89,578.29 142.09,580.38 142.28,582.47 142.47,584.55" fill="#f29418"/>
<polygon points="137.31,578.29 137.48,576.62 137.66,574.95 137.85,573.28 141.35,573.28 141.54,574.95 141.72,576.62 141.89,578.29" fill="#e41c14"/>
<polygon points="137.85,573.28 137.92,572.69 138,572.09 138.1,571.5 141.1,571.5 141.2,572.09 141.28,572.69 141.35,573.28" fill="#8a3020"/>
<polyline points="134.6,610.9 135.1,604.33 135.62,597.77 136.16,591.2 136.72,584.63 137.34,578.07 138.1,571.5 141.1,571.5 141.86,578.07 142.48,584.63 143.04,591.2 143.58,597.77 144.1,604.33 144.6,610.9" fill="none" stroke="#8c8ca6" stroke-width="0.5" stroke-opacity="0.6"/>
<text x="30.9" y="604.4" font-size="8.1" text-anchor="end" fill="#0a0a0a" stroke="#0a0a0a" stroke-width="0.28">0,0</text>
<text x="29.97" y="591.03" font-size="8.1" text-anchor="end" fill="#0a0a0a" stroke="#0a0a0a" stroke-width="0.28">0,2</text>
<text x="29.03" y="577.67" font-size="8.1" text-anchor="end" fill="#0a0a0a" stroke="#0a0a0a" stroke-width="0.28">0,4</text>
<text x="28.1" y="564.3" font-size="8.1" text-anchor="end" fill="#0a0a0a" stroke="#0a0a0a" stroke-width="0.28">0,6</text>
<text x="13.8" y="583" font-size="8.4" text-anchor="middle" fill="#0a0a0a" stroke="#0a0a0a" stroke-width="0.28" transform="rotate(-94 13.8 583)">Neuron activity</text>
<text x="46.5" y="615" font-size="8.9" text-anchor="middle" fill="#0a0a0a" stroke="#0a0a0a" stroke-width="0.28">10</text>
<text x="69.6" y="619.9" font-size="8.9" text-anchor="middle" fill="#0a0a0a" stroke="#0a0a0a" stroke-width="0.28">20</text>
<text x="93.7" y="624.5" font-size="8.9" text-anchor="middle" fill="#0a0a0a" stroke="#0a0a0a" stroke-width="0.28">30</text>
<text x="118.4" y="629.1" font-size="8.9" text-anchor="middle" fill="#0a0a0a" stroke="#0a0a0a" stroke-width="0.28">40</text>
<text x="144.9" y="634.1" font-size="8.9" text-anchor="middle" fill="#0a0a0a" stroke="#0a0a0a" stroke-width="0.28">50</text>
<text x="172.3" y="639.1" font-size="8.9" text-anchor="middle" fill="#0a0a0a" stroke="#0a0a0a" stroke-width="0.28">60</text>
<text x="189.2" y="628.3" font-size="8.9" text-anchor="middle" fill="#0a0a0a" stroke="#0a0a0a" stroke-width="0.28">10</text>
<text x="194.8" y="616.1" font-size="8.9" text-anchor="middle" fill="#0a0a0a" stroke="#0a0a0a" stroke-width="0.28">20</text>
<text x="199.9" y="604.9" font-size="8.9" text-anchor="middle" fill="#0a0a0a" stroke="#0a0a0a" stroke-width="0.28">30</text>
<text x="204.5" y="595.1" font-size="8.9" text-anchor="middle" fill="#0a0a0a" stroke="#0a0a0a" stroke-width="0.28">40</text>
<text x="208.7" y="585.5" font-size="8.9" text-anchor="middle" fill="#0a0a0a" stroke="#0a0a0a" stroke-width="0.28">50</text>
<text x="212.7" y="576.8" font-size="8.9" text-anchor="middle" fill="#0a0a0a" stroke="#0a0a0a" stroke-width="0.28">60</text>
</g>
<g>
<line x1="283.05" y1="67.65" x2="281.18" y2="29.41" stroke="#d0d0d0" stroke-width="0.75"/>
<line x1="348.19" y1="35.48" x2="348.42" y2="2.58" stroke="#d0d0d0" stroke-width="0.75"/>
<line x1="299.69" y1="54.4" x2="298.67" y2="18.29" stroke="#d0d0d0" stroke-width="0.75"/>
<line x1="376.32" y1="39.01" x2="377.01" y2="5.46" stroke="#d0d0d0" stroke-width="0.75"/>
<line x1="314.14" y1="42.89" x2="313.72" y2="8.72" stroke="#d0d0d0" stroke-width="0.75"/>
<line x1="406.1" y1="42.74" x2="407.47" y2="8.52" stroke="#d0d0d0" stroke-width="0.75"/>
<line x1="326.8" y1="32.8" x2="326.8" y2="0.4" stroke="#d0d0d0" stroke-width="0.75"/>
<line x1="437.7" y1="46.7" x2="440" y2="11.8" stroke="#d0d0d0" stroke-width="0.75"/>
<polyline points="266.87,66.43 326.8,22 438.47,35.07" fill="none" stroke="#d0d0d0" stroke-width="0.75"/>
<polyline points="265.93,53.07 326.8,11.2 439.23,23.43" fill="none" stroke="#d0d0d0" stroke-width="0.75"/>
<polyline points="265,39.7 326.8,0.4 440,11.8" fill="none" stroke="#c4c4c4" stroke-width="0.8"/>
<polyline points="265,39.7 326.8,0.4 440,11.8" fill="none" stroke="#808080" stroke-width="0.8" stroke-dasharray="1.3 2.1"/>
<line x1="267.8" y1="79.8" x2="265" y2="39.7" stroke="#5a5a5a" stroke-width="0.9"/>
<line x1="326.8" y1="32.8" x2="326.8" y2="0.4" stroke="#b4b4b4" stroke-width="0.8"/>
<line x1="437.7" y1="46.7" x2="440" y2="11.8" stroke="#b4b4b4" stroke-width="0.8"/>
<polygon points="267.8,79.8 408.8,106 437.7,46.7 326.8,32.8" fill="#0c0cf0"/>
<g stroke="#8888e6" stroke-width="0.62" stroke-opacity="0.7">
<line x1="267.8" y1="79.8" x2="408.8" y2="106"/>
<line x1="271.79" y1="76.62" x2="410.82" y2="101.85"/>
<line x1="275.66" y1="73.54" x2="412.77" y2="97.85"/>
<line x1="279.41" y1="70.55" x2="414.65" y2="93.99"/>
<line x1="283.05" y1="67.65" x2="416.47" y2="90.26"/>
<line x1="286.57" y1="64.84" x2="418.22" y2="86.66"/>
<line x1="290" y1="62.12" x2="419.92" y2="83.19"/>
<line x1="293.32" y1="59.47" x2="421.56" y2="79.82"/>
<line x1="296.55" y1="56.9" x2="423.14" y2="76.57"/>
<line x1="299.69" y1="54.4" x2="424.68" y2="73.42"/>
<line x1="302.74" y1="51.97" x2="426.16" y2="70.37"/>
<line x1="305.7" y1="49.61" x2="427.61" y2="67.41"/>
<line x1="308.59" y1="47.31" x2="429" y2="64.55"/>
<line x1="311.4" y1="45.07" x2="430.36" y2="61.77"/>
<line x1="314.14" y1="42.89" x2="431.67" y2="59.07"/>
<line x1="316.8" y1="40.77" x2="432.95" y2="56.45"/>
<line x1="319.4" y1="38.7" x2="434.19" y2="53.91"/>
<line x1="321.93" y1="36.68" x2="435.39" y2="51.44"/>
<line x1="324.39" y1="34.72" x2="436.56" y2="49.04"/>
<line x1="326.8" y1="32.8" x2="437.7" y2="46.7"/>
</g>
<g stroke="#8888e6" stroke-width="0.62" stroke-opacity="0.7">
<line x1="267.8" y1="79.8" x2="326.8" y2="32.8"/>
<line x1="274.26" y1="81" x2="332.06" y2="33.46"/>
<line x1="280.82" y1="82.22" x2="337.38" y2="34.13"/>
<line x1="287.47" y1="83.45" x2="342.76" y2="34.8"/>
<line x1="294.22" y1="84.71" x2="348.19" y2="35.48"/>
<line x1="301.06" y1="85.98" x2="353.69" y2="36.17"/>
<line x1="308.01" y1="87.27" x2="359.25" y2="36.87"/>
<line x1="315.07" y1="88.58" x2="364.88" y2="37.57"/>
<line x1="322.23" y1="89.91" x2="370.56" y2="38.29"/>
<line x1="329.5" y1="91.26" x2="376.32" y2="39.01"/>
<line x1="336.88" y1="92.64" x2="382.14" y2="39.74"/>
<line x1="344.38" y1="94.03" x2="388.02" y2="40.47"/>
<line x1="351.99" y1="95.44" x2="393.98" y2="41.22"/>
<line x1="359.72" y1="96.88" x2="400" y2="41.98"/>
<line x1="367.58" y1="98.34" x2="406.1" y2="42.74"/>
<line x1="375.56" y1="99.82" x2="412.27" y2="43.51"/>
<line x1="383.67" y1="101.33" x2="418.51" y2="44.3"/>
<line x1="391.91" y1="102.86" x2="424.83" y2="45.09"/>
<line x1="400.29" y1="104.42" x2="431.23" y2="45.89"/>
<line x1="408.8" y1="106" x2="437.7" y2="46.7"/>
</g>
<text x="264.1" y="84.2" font-size="8.1" text-anchor="end" fill="#0a0a0a" stroke="#0a0a0a" stroke-width="0.28">0,0</text>
<text x="263.17" y="70.83" font-size="8.1" text-anchor="end" fill="#0a0a0a" stroke="#0a0a0a" stroke-width="0.28">0,2</text>
<text x="262.23" y="57.47" font-size="8.1" text-anchor="end" fill="#0a0a0a" stroke="#0a0a0a" stroke-width="0.28">0,4</text>
<text x="261.3" y="44.1" font-size="8.1" text-anchor="end" fill="#0a0a0a" stroke="#0a0a0a" stroke-width="0.28">0,6</text>
<text x="246.9" y="65.3" font-size="8.4" text-anchor="middle" fill="#0a0a0a" stroke="#0a0a0a" stroke-width="0.28" transform="rotate(-94 246.9 65.3)">Neuron activity</text>
<text x="292.8" y="96.6" font-size="8.9" text-anchor="middle" fill="#0a0a0a" stroke="#0a0a0a" stroke-width="0.28">5</text>
<text x="327.5" y="103.1" font-size="8.9" text-anchor="middle" fill="#0a0a0a" stroke="#0a0a0a" stroke-width="0.28">10</text>
<text x="366.4" y="110.4" font-size="8.9" text-anchor="middle" fill="#0a0a0a" stroke="#0a0a0a" stroke-width="0.28">15</text>
<text x="408.3" y="118.4" font-size="8.9" text-anchor="middle" fill="#0a0a0a" stroke="#0a0a0a" stroke-width="0.28">20</text>
<text x="420.1" y="96.1" font-size="8.9" text-anchor="middle" fill="#0a0a0a" stroke="#0a0a0a" stroke-width="0.28">5</text>
<text x="431.2" y="79" font-size="8.9" text-anchor="middle" fill="#0a0a0a" stroke="#0a0a0a" stroke-width="0.28">10</text>
<text x="438.4" y="64.2" font-size="8.9" text-anchor="middle" fill="#0a0a0a" stroke="#0a0a0a" stroke-width="0.28">15</text>
<text x="444.1" y="52.4" font-size="8.9" text-anchor="middle" fill="#0a0a0a" stroke="#0a0a0a" stroke-width="0.28">20</text>
<text x="329.5" y="112.4" font-size="7.6" text-anchor="middle" fill="#0a0a0a" stroke="#0a0a0a" stroke-width="0.28">X Axis</text>
<text x="448.3" y="83" font-size="7.6" text-anchor="middle" fill="#0a0a0a" stroke="#0a0a0a" stroke-width="0.28" transform="rotate(-90 448.3 83)">Y Axis</text>
</g>
<g>
<line x1="283.05" y1="197.65" x2="281.18" y2="159.41" stroke="#d0d0d0" stroke-width="0.75"/>
<line x1="348.19" y1="165.48" x2="348.42" y2="132.58" stroke="#d0d0d0" stroke-width="0.75"/>
<line x1="299.69" y1="184.4" x2="298.67" y2="148.29" stroke="#d0d0d0" stroke-width="0.75"/>
<line x1="376.32" y1="169.01" x2="377.01" y2="135.46" stroke="#d0d0d0" stroke-width="0.75"/>
<line x1="314.14" y1="172.89" x2="313.72" y2="138.72" stroke="#d0d0d0" stroke-width="0.75"/>
<line x1="406.1" y1="172.74" x2="407.47" y2="138.52" stroke="#d0d0d0" stroke-width="0.75"/>
<line x1="326.8" y1="162.8" x2="326.8" y2="130.4" stroke="#d0d0d0" stroke-width="0.75"/>
<line x1="437.7" y1="176.7" x2="440" y2="141.8" stroke="#d0d0d0" stroke-width="0.75"/>
<polyline points="266.87,196.43 326.8,152 438.47,165.07" fill="none" stroke="#d0d0d0" stroke-width="0.75"/>
<polyline points="265.93,183.07 326.8,141.2 439.23,153.43" fill="none" stroke="#d0d0d0" stroke-width="0.75"/>
<polyline points="265,169.7 326.8,130.4 440,141.8" fill="none" stroke="#c4c4c4" stroke-width="0.8"/>
<polyline points="265,169.7 326.8,130.4 440,141.8" fill="none" stroke="#808080" stroke-width="0.8" stroke-dasharray="1.3 2.1"/>
<line x1="267.8" y1="209.8" x2="265" y2="169.7" stroke="#5a5a5a" stroke-width="0.9"/>
<line x1="326.8" y1="162.8" x2="326.8" y2="130.4" stroke="#b4b4b4" stroke-width="0.8"/>
<line x1="437.7" y1="176.7" x2="440" y2="141.8" stroke="#b4b4b4" stroke-width="0.8"/>
<polygon points="267.8,209.8 408.8,236 437.7,176.7 326.8,162.8" fill="#0c0cf0"/>
<g stroke="#8888e6" stroke-width="0.62" stroke-opacity="0.7">
<line x1="267.8" y1="209.8" x2="408.8" y2="236"/>
<line x1="271.79" y1="206.62" x2="410.82" y2="231.85"/>
<line x1="275.66" y1="203.54" x2="412.77" y2="227.85"/>
<line x1="279.41" y1="200.55" x2="414.65" y2="223.99"/>
<line x1="283.05" y1="197.65" x2="416.47" y2="220.26"/>
<line x1="286.57" y1="194.84" x2="418.22" y2="216.66"/>
<line x1="290" y1="192.12" x2="419.92" y2="213.19"/>
<line x1="293.32" y1="189.47" x2="421.56" y2="209.82"/>
<line x1="296.55" y1="186.9" x2="423.14" y2="206.57"/>
<line x1="299.69" y1="184.4" x2="424.68" y2="203.42"/>
<line x1="302.74" y1="181.97" x2="426.16" y2="200.37"/>
<line x1="305.7" y1="179.61" x2="427.61" y2="197.41"/>
<line x1="308.59" y1="177.31" x2="429" y2="194.55"/>
<line x1="311.4" y1="175.07" x2="430.36" y2="191.77"/>
<line x1="314.14" y1="172.89" x2="431.67" y2="189.07"/>
<line x1="316.8" y1="170.77" x2="432.95" y2="186.45"/>
<line x1="319.4" y1="168.7" x2="434.19" y2="183.91"/>
<line x1="321.93" y1="166.68" x2="435.39" y2="181.44"/>
<line x1="324.39" y1="164.72" x2="436.56" y2="179.04"/>
<line x1="326.8" y1="162.8" x2="437.7" y2="176.7"/>
</g>
<g stroke="#8888e6" stroke-width="0.62" stroke-opacity="0.7">
<line x1="267.8" y1="209.8" x2="326.8" y2="162.8"/>
<line x1="274.26" y1="211" x2="332.06" y2="163.46"/>
<line x1="280.82" y1="212.22" x2="337.38" y2="164.13"/>
<line x1="287.47" y1="213.45" x2="342.76" y2="164.8"/>
<line x1="294.22" y1="214.71" x2="348.19" y2="165.48"/>
<line x1="301.06" y1="215.98" x2="353.69" y2="166.17"/>
<line x1="308.01" y1="217.27" x2="359.25" y2="166.87"/>
<line x1="315.07" y1="218.58" x2="364.88" y2="167.57"/>
<line x1="322.23" y1="219.91" x2="370.56" y2="168.29"/>
<line x1="329.5" y1="221.26" x2="376.32" y2="169.01"/>
<line x1="336.88" y1="222.64" x2="382.14" y2="169.74"/>
<line x1="344.38" y1="224.03" x2="388.02" y2="170.47"/>
<line x1="351.99" y1="225.44" x2="393.98" y2="171.22"/>
<line x1="359.72" y1="226.88" x2="400" y2="171.98"/>
<line x1="367.58" y1="228.34" x2="406.1" y2="172.74"/>
<line x1="375.56" y1="229.82" x2="412.27" y2="173.51"/>
<line x1="383.67" y1="231.33" x2="418.51" y2="174.3"/>
<line x1="391.91" y1="232.86" x2="424.83" y2="175.09"/>
<line x1="400.29" y1="234.42" x2="431.23" y2="175.89"/>
<line x1="408.8" y1="236" x2="437.7" y2="176.7"/>
</g>
<text x="264.1" y="214.2" font-size="8.1" text-anchor="end" fill="#0a0a0a" stroke="#0a0a0a" stroke-width="0.28">0,0</text>
<text x="263.17" y="200.83" font-size="8.1" text-anchor="end" fill="#0a0a0a" stroke="#0a0a0a" stroke-width="0.28">0,2</text>
<text x="262.23" y="187.47" font-size="8.1" text-anchor="end" fill="#0a0a0a" stroke="#0a0a0a" stroke-width="0.28">0,4</text>
<text x="261.3" y="174.1" font-size="8.1" text-anchor="end" fill="#0a0a0a" stroke="#0a0a0a" stroke-width="0.28">0,6</text>
<text x="245.6" y="193" font-size="8.4" text-anchor="middle" fill="#0a0a0a" stroke="#0a0a0a" stroke-width="0.28" transform="rotate(-94 245.6 193)">Neuron activity</text>
<text x="290.4" y="226.3" font-size="8.9" text-anchor="middle" fill="#0a0a0a" stroke="#0a0a0a" stroke-width="0.28">5</text>
<text x="325.3" y="233.6" font-size="8.9" text-anchor="middle" fill="#0a0a0a" stroke="#0a0a0a" stroke-width="0.28">10</text>
<text x="364.6" y="241.1" font-size="8.9" text-anchor="middle" fill="#0a0a0a" stroke="#0a0a0a" stroke-width="0.28">15</text>
<text x="406.8" y="248.9" font-size="8.9" text-anchor="middle" fill="#0a0a0a" stroke="#0a0a0a" stroke-width="0.28">20</text>
<text x="420.1" y="226.1" font-size="8.9" text-anchor="middle" fill="#0a0a0a" stroke="#0a0a0a" stroke-width="0.28">5</text>
<text x="431.2" y="209" font-size="8.9" text-anchor="middle" fill="#0a0a0a" stroke="#0a0a0a" stroke-width="0.28">10</text>
<text x="438.4" y="194.2" font-size="8.9" text-anchor="middle" fill="#0a0a0a" stroke="#0a0a0a" stroke-width="0.28">15</text>
<text x="444.1" y="182.4" font-size="8.9" text-anchor="middle" fill="#0a0a0a" stroke="#0a0a0a" stroke-width="0.28">20</text>
<text x="328.3" y="244.3" font-size="7.6" text-anchor="middle" fill="#0a0a0a" stroke="#0a0a0a" stroke-width="0.28">X Axis</text>
<text x="446.3" y="210.7" font-size="7.6" text-anchor="middle" fill="#0a0a0a" stroke="#0a0a0a" stroke-width="0.28" transform="rotate(-90 446.3 210.7)">Y Axis</text>
</g>
<g>
<line x1="282.64" y1="327.66" x2="281.73" y2="289.4" stroke="#d0d0d0" stroke-width="0.75"/>
<line x1="348.27" y1="297.09" x2="348.64" y2="262.83" stroke="#d0d0d0" stroke-width="0.75"/>
<line x1="298.53" y1="315.25" x2="298.01" y2="278.65" stroke="#d0d0d0" stroke-width="0.75"/>
<line x1="377.77" y1="300.84" x2="378.63" y2="265.86" stroke="#d0d0d0" stroke-width="0.75"/>
<line x1="312.73" y1="304.17" x2="312.51" y2="269.08" stroke="#d0d0d0" stroke-width="0.75"/>
<line x1="408.49" y1="304.74" x2="409.89" y2="269.01" stroke="#d0d0d0" stroke-width="0.75"/>
<line x1="325.5" y1="294.2" x2="325.5" y2="260.5" stroke="#d0d0d0" stroke-width="0.75"/>
<line x1="440.5" y1="308.8" x2="442.5" y2="272.3" stroke="#d0d0d0" stroke-width="0.75"/>
<polyline points="268.07,325.47 325.5,282.97 441.17,296.63" fill="none" stroke="#d0d0d0" stroke-width="0.75"/>
<polyline points="267.63,312.23 325.5,271.73 441.83,284.47" fill="none" stroke="#d0d0d0" stroke-width="0.75"/>
<polyline points="267.2,299 325.5,260.5 442.5,272.3" fill="none" stroke="#c4c4c4" stroke-width="0.8"/>
<polyline points="267.2,299 325.5,260.5 442.5,272.3" fill="none" stroke="#808080" stroke-width="0.8" stroke-dasharray="1.3 2.1"/>
<line x1="268.5" y1="338.7" x2="267.2" y2="299" stroke="#5a5a5a" stroke-width="0.9"/>
<line x1="325.5" y1="294.2" x2="325.5" y2="260.5" stroke="#b4b4b4" stroke-width="0.8"/>
<line x1="440.5" y1="308.8" x2="442.5" y2="272.3" stroke="#b4b4b4" stroke-width="0.8"/>
<polygon points="268.5,338.7 407.8,361.6 440.5,308.8 325.5,294.2" fill="#0c0cf0"/>
<g stroke="#8888e6" stroke-width="0.62" stroke-opacity="0.7">
<line x1="268.5" y1="338.7" x2="407.8" y2="361.6"/>
<line x1="272.17" y1="335.84" x2="409.94" y2="358.14"/>
<line x1="275.74" y1="333.05" x2="412.03" y2="354.78"/>
<line x1="279.23" y1="330.32" x2="414.05" y2="351.5"/>
<line x1="282.64" y1="327.66" x2="416.03" y2="348.31"/>
<line x1="285.97" y1="325.06" x2="417.96" y2="345.2"/>
<line x1="289.22" y1="322.52" x2="419.83" y2="342.17"/>
<line x1="292.39" y1="320.05" x2="421.66" y2="339.22"/>
<line x1="295.5" y1="317.62" x2="423.44" y2="336.34"/>
<line x1="298.53" y1="315.25" x2="425.18" y2="333.53"/>
<line x1="301.5" y1="312.94" x2="426.88" y2="330.79"/>
<line x1="304.4" y1="310.67" x2="428.54" y2="328.11"/>
<line x1="307.24" y1="308.46" x2="430.16" y2="325.5"/>
<line x1="310.01" y1="306.29" x2="431.74" y2="322.95"/>
<line x1="312.73" y1="304.17" x2="433.28" y2="320.45"/>
<line x1="315.39" y1="302.09" x2="434.79" y2="318.02"/>
<line x1="318" y1="300.06" x2="436.27" y2="315.63"/>
<line x1="320.55" y1="298.06" x2="437.71" y2="313.3"/>
<line x1="323.05" y1="296.11" x2="439.12" y2="311.03"/>
<line x1="325.5" y1="294.2" x2="440.5" y2="308.8"/>
</g>
<g stroke="#8888e6" stroke-width="0.62" stroke-opacity="0.7">
<line x1="268.5" y1="338.7" x2="325.5" y2="294.2"/>
<line x1="275.19" y1="339.8" x2="331.13" y2="294.91"/>
<line x1="281.95" y1="340.91" x2="336.8" y2="295.63"/>
<line x1="288.77" y1="342.03" x2="342.51" y2="296.36"/>
<line x1="295.66" y1="343.17" x2="348.27" y2="297.09"/>
<line x1="302.62" y1="344.31" x2="354.08" y2="297.83"/>
<line x1="309.65" y1="345.47" x2="359.93" y2="298.57"/>
<line x1="316.75" y1="346.63" x2="365.83" y2="299.32"/>
<line x1="323.92" y1="347.81" x2="371.78" y2="300.08"/>
<line x1="331.16" y1="349" x2="377.77" y2="300.84"/>
<line x1="338.47" y1="350.2" x2="383.82" y2="301.6"/>
<line x1="345.86" y1="351.42" x2="389.91" y2="302.38"/>
<line x1="353.33" y1="352.65" x2="396.05" y2="303.16"/>
<line x1="360.87" y1="353.89" x2="402.25" y2="303.94"/>
<line x1="368.49" y1="355.14" x2="408.49" y2="304.74"/>
<line x1="376.19" y1="356.4" x2="414.79" y2="305.54"/>
<line x1="383.97" y1="357.68" x2="421.14" y2="306.34"/>
<line x1="391.83" y1="358.97" x2="427.54" y2="307.15"/>
<line x1="399.77" y1="360.28" x2="433.99" y2="307.97"/>
<line x1="407.8" y1="361.6" x2="440.5" y2="308.8"/>
</g>
<text x="264.8" y="343.1" font-size="8.1" text-anchor="end" fill="#0a0a0a" stroke="#0a0a0a" stroke-width="0.28">0,0</text>
<text x="264.37" y="329.87" font-size="8.1" text-anchor="end" fill="#0a0a0a" stroke="#0a0a0a" stroke-width="0.28">0,2</text>
<text x="263.93" y="316.63" font-size="8.1" text-anchor="end" fill="#0a0a0a" stroke="#0a0a0a" stroke-width="0.28">0,4</text>
<text x="263.5" y="303.4" font-size="8.1" text-anchor="end" fill="#0a0a0a" stroke="#0a0a0a" stroke-width="0.28">0,6</text>
<text x="249.8" y="322.3" font-size="8.4" text-anchor="middle" fill="#0a0a0a" stroke="#0a0a0a" stroke-width="0.28" transform="rotate(-94 249.8 322.3)">Neuron activity</text>
<text x="294.1" y="353.8" font-size="8.9" text-anchor="middle" fill="#0a0a0a" stroke="#0a0a0a" stroke-width="0.28">5</text>
<text x="328" y="359.6" font-size="8.9" text-anchor="middle" fill="#0a0a0a" stroke="#0a0a0a" stroke-width="0.28">10</text>
<text x="365.9" y="365.4" font-size="8.9" text-anchor="middle" fill="#0a0a0a" stroke="#0a0a0a" stroke-width="0.28">15</text>
<text x="404.8" y="371.7" font-size="8.9" text-anchor="middle" fill="#0a0a0a" stroke="#0a0a0a" stroke-width="0.28">20</text>
<text x="420.4" y="355.8" font-size="8.9" text-anchor="middle" fill="#0a0a0a" stroke="#0a0a0a" stroke-width="0.28">5</text>
<text x="433" y="340.8" font-size="8.9" text-anchor="middle" fill="#0a0a0a" stroke="#0a0a0a" stroke-width="0.28">10</text>
<text x="441.8" y="327.4" font-size="8.9" text-anchor="middle" fill="#0a0a0a" stroke="#0a0a0a" stroke-width="0.28">15</text>
<text x="448.5" y="315.6" font-size="8.9" text-anchor="middle" fill="#0a0a0a" stroke="#0a0a0a" stroke-width="0.28">20</text>
</g>
<g>
<line x1="283.05" y1="457.95" x2="281.18" y2="419.71" stroke="#d0d0d0" stroke-width="0.75"/>
<line x1="348.19" y1="425.78" x2="348.42" y2="392.88" stroke="#d0d0d0" stroke-width="0.75"/>
<line x1="299.69" y1="444.7" x2="298.67" y2="408.59" stroke="#d0d0d0" stroke-width="0.75"/>
<line x1="376.32" y1="429.31" x2="377.01" y2="395.76" stroke="#d0d0d0" stroke-width="0.75"/>
<line x1="314.14" y1="433.19" x2="313.72" y2="399.02" stroke="#d0d0d0" stroke-width="0.75"/>
<line x1="406.1" y1="433.04" x2="407.47" y2="398.82" stroke="#d0d0d0" stroke-width="0.75"/>
<line x1="326.8" y1="423.1" x2="326.8" y2="390.7" stroke="#d0d0d0" stroke-width="0.75"/>
<line x1="437.7" y1="437" x2="440" y2="402.1" stroke="#d0d0d0" stroke-width="0.75"/>
<polyline points="266.87,456.73 326.8,412.3 438.47,425.37" fill="none" stroke="#d0d0d0" stroke-width="0.75"/>
<polyline points="265.93,443.37 326.8,401.5 439.23,413.73" fill="none" stroke="#d0d0d0" stroke-width="0.75"/>
<polyline points="265,430 326.8,390.7 440,402.1" fill="none" stroke="#c4c4c4" stroke-width="0.8"/>
<polyline points="265,430 326.8,390.7 440,402.1" fill="none" stroke="#808080" stroke-width="0.8" stroke-dasharray="1.3 2.1"/>
<line x1="267.8" y1="470.1" x2="265" y2="430" stroke="#5a5a5a" stroke-width="0.9"/>
<line x1="326.8" y1="423.1" x2="326.8" y2="390.7" stroke="#b4b4b4" stroke-width="0.8"/>
<line x1="437.7" y1="437" x2="440" y2="402.1" stroke="#b4b4b4" stroke-width="0.8"/>
<polygon points="267.8,470.1 408.8,496.3 437.7,437 326.8,423.1" fill="#0c0cf0"/>
<g stroke="#8888e6" stroke-width="0.62" stroke-opacity="0.7">
<line x1="267.8" y1="470.1" x2="408.8" y2="496.3"/>
<line x1="271.79" y1="466.92" x2="410.82" y2="492.15"/>
<line x1="275.66" y1="463.84" x2="412.77" y2="488.15"/>
<line x1="279.41" y1="460.85" x2="414.65" y2="484.29"/>
<line x1="283.05" y1="457.95" x2="416.47" y2="480.56"/>
<line x1="286.57" y1="455.14" x2="418.22" y2="476.96"/>
<line x1="290" y1="452.42" x2="419.92" y2="473.49"/>
<line x1="293.32" y1="449.77" x2="421.56" y2="470.12"/>
<line x1="296.55" y1="447.2" x2="423.14" y2="466.87"/>
<line x1="299.69" y1="444.7" x2="424.68" y2="463.72"/>
<line x1="302.74" y1="442.27" x2="426.16" y2="460.67"/>
<line x1="305.7" y1="439.91" x2="427.61" y2="457.71"/>
<line x1="308.59" y1="437.61" x2="429" y2="454.85"/>
<line x1="311.4" y1="435.37" x2="430.36" y2="452.07"/>
<line x1="314.14" y1="433.19" x2="431.67" y2="449.37"/>
<line x1="316.8" y1="431.07" x2="432.95" y2="446.75"/>
<line x1="319.4" y1="429" x2="434.19" y2="444.21"/>
<line x1="321.93" y1="426.98" x2="435.39" y2="441.74"/>
<line x1="324.39" y1="425.02" x2="436.56" y2="439.34"/>
<line x1="326.8" y1="423.1" x2="437.7" y2="437"/>
</g>
<g stroke="#8888e6" stroke-width="0.62" stroke-opacity="0.7">
<line x1="267.8" y1="470.1" x2="326.8" y2="423.1"/>
<line x1="274.26" y1="471.3" x2="332.06" y2="423.76"/>
<line x1="280.82" y1="472.52" x2="337.38" y2="424.43"/>
<line x1="287.47" y1="473.75" x2="342.76" y2="425.1"/>
<line x1="294.22" y1="475.01" x2="348.19" y2="425.78"/>
<line x1="301.06" y1="476.28" x2="353.69" y2="426.47"/>
<line x1="308.01" y1="477.57" x2="359.25" y2="427.17"/>
<line x1="315.07" y1="478.88" x2="364.88" y2="427.87"/>
<line x1="322.23" y1="480.21" x2="370.56" y2="428.59"/>
<line x1="329.5" y1="481.56" x2="376.32" y2="429.31"/>
<line x1="336.88" y1="482.94" x2="382.14" y2="430.04"/>
<line x1="344.38" y1="484.33" x2="388.02" y2="430.77"/>
<line x1="351.99" y1="485.74" x2="393.98" y2="431.52"/>
<line x1="359.72" y1="487.18" x2="400" y2="432.28"/>
<line x1="367.58" y1="488.64" x2="406.1" y2="433.04"/>
<line x1="375.56" y1="490.12" x2="412.27" y2="433.81"/>
<line x1="383.67" y1="491.63" x2="418.51" y2="434.6"/>
<line x1="391.91" y1="493.16" x2="424.83" y2="435.39"/>
<line x1="400.29" y1="494.72" x2="431.23" y2="436.19"/>
<line x1="408.8" y1="496.3" x2="437.7" y2="437"/>
</g>
<polygon points="372.4,467.7 377.6,471.9 377.81,466.41 373.6,463.01" fill="#2a96f0"/>
<polygon points="377.6,471.9 384.7,469.9 383.56,464.79 377.81,466.41" fill="#2a96f0" fill-opacity="0.9"/>
<polygon points="373.6,463.01 377.81,466.41 378.04,460.34 374.92,457.82" fill="#3cecf0"/>
<polygon points="377.81,466.41 383.56,464.79 382.3,459.14 378.04,460.34" fill="#3cecf0" fill-opacity="0.9"/>
<polygon points="374.92,457.82 378.04,460.34 378.26,454.56 376.18,452.88" fill="#46ec64"/>
<polygon points="378.04,460.34 382.3,459.14 381.1,453.76 378.26,454.56" fill="#46ec64" fill-opacity="0.9"/>
<polygon points="376.18,452.88 378.26,454.56 378.48,448.78 377.44,447.94" fill="#5cee46"/>
<polygon points="378.26,454.56 381.1,453.76 379.9,448.38 378.48,448.78" fill="#5cee46" fill-opacity="0.9"/>
<polygon points="377.44,447.94 378.48,448.78 378.7,443 378.7,443" fill="#f6f064"/>
<polygon points="378.48,448.78 379.9,448.38 378.7,443 378.7,443" fill="#f6f064" fill-opacity="0.9"/>
<line x1="377.6" y1="471.9" x2="378.7" y2="443" stroke="#9aa8b8" stroke-width="0.6"/>
<polyline points="372.4,467.7 377.6,471.9 384.7,469.9" fill="none" stroke="#8a98c0" stroke-width="0.6"/>
<text x="264.1" y="474.5" font-size="8.1" text-anchor="end" fill="#0a0a0a" stroke="#0a0a0a" stroke-width="0.28">0,0</text>
<text x="263.17" y="461.13" font-size="8.1" text-anchor="end" fill="#0a0a0a" stroke="#0a0a0a" stroke-width="0.28">0,2</text>
<text x="262.23" y="447.77" font-size="8.1" text-anchor="end" fill="#0a0a0a" stroke="#0a0a0a" stroke-width="0.28">0,4</text>
<text x="261.3" y="434.4" font-size="8.1" text-anchor="end" fill="#0a0a0a" stroke="#0a0a0a" stroke-width="0.28">0,6</text>
<text x="247.4" y="453" font-size="8.4" text-anchor="middle" fill="#0a0a0a" stroke="#0a0a0a" stroke-width="0.28" transform="rotate(-94 247.4 453)">Neuron activity</text>
<text x="292" y="484" font-size="8.9" text-anchor="middle" fill="#0a0a0a" stroke="#0a0a0a" stroke-width="0.28">5</text>
<text x="327" y="490.6" font-size="8.9" text-anchor="middle" fill="#0a0a0a" stroke="#0a0a0a" stroke-width="0.28">10</text>
<text x="365.7" y="498.3" font-size="8.9" text-anchor="middle" fill="#0a0a0a" stroke="#0a0a0a" stroke-width="0.28">15</text>
<text x="407.4" y="506.2" font-size="8.9" text-anchor="middle" fill="#0a0a0a" stroke="#0a0a0a" stroke-width="0.28">20</text>
<text x="420.4" y="486.6" font-size="8.9" text-anchor="middle" fill="#0a0a0a" stroke="#0a0a0a" stroke-width="0.28">5</text>
<text x="431.7" y="469.5" font-size="8.9" text-anchor="middle" fill="#0a0a0a" stroke="#0a0a0a" stroke-width="0.28">10</text>
<text x="438.5" y="454.9" font-size="8.9" text-anchor="middle" fill="#0a0a0a" stroke="#0a0a0a" stroke-width="0.28">15</text>
<text x="444.3" y="441.9" font-size="8.9" text-anchor="middle" fill="#0a0a0a" stroke="#0a0a0a" stroke-width="0.28">20</text>
</g>
<g>
<line x1="283.05" y1="587.85" x2="281.18" y2="549.61" stroke="#d0d0d0" stroke-width="0.75"/>
<line x1="348.19" y1="555.68" x2="348.42" y2="522.78" stroke="#d0d0d0" stroke-width="0.75"/>
<line x1="299.69" y1="574.6" x2="298.67" y2="538.49" stroke="#d0d0d0" stroke-width="0.75"/>
<line x1="376.32" y1="559.21" x2="377.01" y2="525.66" stroke="#d0d0d0" stroke-width="0.75"/>
<line x1="314.14" y1="563.09" x2="313.72" y2="528.92" stroke="#d0d0d0" stroke-width="0.75"/>
<line x1="406.1" y1="562.94" x2="407.47" y2="528.72" stroke="#d0d0d0" stroke-width="0.75"/>
<line x1="326.8" y1="553" x2="326.8" y2="520.6" stroke="#d0d0d0" stroke-width="0.75"/>
<line x1="437.7" y1="566.9" x2="440" y2="532" stroke="#d0d0d0" stroke-width="0.75"/>
<polyline points="266.87,586.63 326.8,542.2 438.47,555.27" fill="none" stroke="#d0d0d0" stroke-width="0.75"/>
<polyline points="265.93,573.27 326.8,531.4 439.23,543.63" fill="none" stroke="#d0d0d0" stroke-width="0.75"/>
<polyline points="265,559.9 326.8,520.6 440,532" fill="none" stroke="#c4c4c4" stroke-width="0.8"/>
<polyline points="265,559.9 326.8,520.6 440,532" fill="none" stroke="#808080" stroke-width="0.8" stroke-dasharray="1.3 2.1"/>
<line x1="267.8" y1="600" x2="265" y2="559.9" stroke="#5a5a5a" stroke-width="0.9"/>
<line x1="326.8" y1="553" x2="326.8" y2="520.6" stroke="#b4b4b4" stroke-width="0.8"/>
<line x1="437.7" y1="566.9" x2="440" y2="532" stroke="#b4b4b4" stroke-width="0.8"/>
<polygon points="267.8,600 408.8,626.2 437.7,566.9 326.8,553" fill="#0c0cf0"/>
<g stroke="#8888e6" stroke-width="0.62" stroke-opacity="0.7">
<line x1="267.8" y1="600" x2="408.8" y2="626.2"/>
<line x1="271.79" y1="596.82" x2="410.82" y2="622.05"/>
<line x1="275.66" y1="593.74" x2="412.77" y2="618.05"/>
<line x1="279.41" y1="590.75" x2="414.65" y2="614.19"/>
<line x1="283.05" y1="587.85" x2="416.47" y2="610.46"/>
<line x1="286.57" y1="585.04" x2="418.22" y2="606.86"/>
<line x1="290" y1="582.32" x2="419.92" y2="603.39"/>
<line x1="293.32" y1="579.67" x2="421.56" y2="600.02"/>
<line x1="296.55" y1="577.1" x2="423.14" y2="596.77"/>
<line x1="299.69" y1="574.6" x2="424.68" y2="593.62"/>
<line x1="302.74" y1="572.17" x2="426.16" y2="590.57"/>
<line x1="305.7" y1="569.81" x2="427.61" y2="587.61"/>
<line x1="308.59" y1="567.51" x2="429" y2="584.75"/>
<line x1="311.4" y1="565.27" x2="430.36" y2="581.97"/>
<line x1="314.14" y1="563.09" x2="431.67" y2="579.27"/>
<line x1="316.8" y1="560.97" x2="432.95" y2="576.65"/>
<line x1="319.4" y1="558.9" x2="434.19" y2="574.11"/>
<line x1="321.93" y1="556.88" x2="435.39" y2="571.64"/>
<line x1="324.39" y1="554.92" x2="436.56" y2="569.24"/>
<line x1="326.8" y1="553" x2="437.7" y2="566.9"/>
</g>
<g stroke="#8888e6" stroke-width="0.62" stroke-opacity="0.7">
<line x1="267.8" y1="600" x2="326.8" y2="553"/>
<line x1="274.26" y1="601.2" x2="332.06" y2="553.66"/>
<line x1="280.82" y1="602.42" x2="337.38" y2="554.33"/>
<line x1="287.47" y1="603.65" x2="342.76" y2="555"/>
<line x1="294.22" y1="604.91" x2="348.19" y2="555.68"/>
<line x1="301.06" y1="606.18" x2="353.69" y2="556.37"/>
<line x1="308.01" y1="607.47" x2="359.25" y2="557.07"/>
<line x1="315.07" y1="608.78" x2="364.88" y2="557.77"/>
<line x1="322.23" y1="610.11" x2="370.56" y2="558.49"/>
<line x1="329.5" y1="611.46" x2="376.32" y2="559.21"/>
<line x1="336.88" y1="612.84" x2="382.14" y2="559.94"/>
<line x1="344.38" y1="614.23" x2="388.02" y2="560.67"/>
<line x1="351.99" y1="615.64" x2="393.98" y2="561.42"/>
<line x1="359.72" y1="617.08" x2="400" y2="562.18"/>
<line x1="367.58" y1="618.54" x2="406.1" y2="562.94"/>
<line x1="375.56" y1="620.02" x2="412.27" y2="563.71"/>
<line x1="383.67" y1="621.53" x2="418.51" y2="564.5"/>
<line x1="391.91" y1="623.06" x2="424.83" y2="565.29"/>
<line x1="400.29" y1="624.62" x2="431.23" y2="566.09"/>
<line x1="408.8" y1="626.2" x2="437.7" y2="566.9"/>
</g>
<polygon points="372.4,597.6 377.6,601.8 377.81,596.31 373.6,592.91" fill="#2a96f0"/>
<polygon points="377.6,601.8 384.7,599.8 383.56,594.69 377.81,596.31" fill="#2a96f0" fill-opacity="0.9"/>
<polygon points="373.6,592.91 377.81,596.31 378.04,590.24 374.92,587.72" fill="#3cecf0"/>
<polygon points="377.81,596.31 383.56,594.69 382.3,589.04 378.04,590.24" fill="#3cecf0" fill-opacity="0.9"/>
<polygon points="374.92,587.72 378.04,590.24 378.26,584.46 376.18,582.78" fill="#46ec64"/>
<polygon points="378.04,590.24 382.3,589.04 381.1,583.66 378.26,584.46" fill="#46ec64" fill-opacity="0.9"/>
<polygon points="376.18,582.78 378.26,584.46 378.48,578.68 377.44,577.84" fill="#5cee46"/>
<polygon points="378.26,584.46 381.1,583.66 379.9,578.28 378.48,578.68" fill="#5cee46" fill-opacity="0.9"/>
<polygon points="377.44,577.84 378.48,578.68 378.7,572.9 378.7,572.9" fill="#f6f064"/>
<polygon points="378.48,578.68 379.9,578.28 378.7,572.9 378.7,572.9" fill="#f6f064" fill-opacity="0.9"/>
<line x1="377.6" y1="601.8" x2="378.7" y2="572.9" stroke="#9aa8b8" stroke-width="0.6"/>
<polyline points="372.4,597.6 377.6,601.8 384.7,599.8" fill="none" stroke="#8a98c0" stroke-width="0.6"/>
<text x="264.1" y="604.4" font-size="8.1" text-anchor="end" fill="#0a0a0a" stroke="#0a0a0a" stroke-width="0.28">0,0</text>
<text x="263.17" y="591.03" font-size="8.1" text-anchor="end" fill="#0a0a0a" stroke="#0a0a0a" stroke-width="0.28">0,2</text>
<text x="262.23" y="577.67" font-size="8.1" text-anchor="end" fill="#0a0a0a" stroke="#0a0a0a" stroke-width="0.28">0,4</text>
<text x="261.3" y="564.3" font-size="8.1" text-anchor="end" fill="#0a0a0a" stroke="#0a0a0a" stroke-width="0.28">0,6</text>
<text x="247.4" y="583" font-size="8.4" text-anchor="middle" fill="#0a0a0a" stroke="#0a0a0a" stroke-width="0.28" transform="rotate(-94 247.4 583)">Neuron activity</text>
<text x="291.4" y="615" font-size="8.9" text-anchor="middle" fill="#0a0a0a" stroke="#0a0a0a" stroke-width="0.28">5</text>
<text x="326" y="622.5" font-size="8.9" text-anchor="middle" fill="#0a0a0a" stroke="#0a0a0a" stroke-width="0.28">10</text>
<text x="365" y="630" font-size="8.9" text-anchor="middle" fill="#0a0a0a" stroke="#0a0a0a" stroke-width="0.28">15</text>
<text x="406.8" y="637.4" font-size="8.9" text-anchor="middle" fill="#0a0a0a" stroke="#0a0a0a" stroke-width="0.28">20</text>
<text x="420.4" y="616.9" font-size="8.9" text-anchor="middle" fill="#0a0a0a" stroke="#0a0a0a" stroke-width="0.28">5</text>
<text x="431.7" y="599.3" font-size="8.9" text-anchor="middle" fill="#0a0a0a" stroke="#0a0a0a" stroke-width="0.28">10</text>
<text x="438.5" y="584.7" font-size="8.9" text-anchor="middle" fill="#0a0a0a" stroke="#0a0a0a" stroke-width="0.28">15</text>
<text x="444.3" y="572.4" font-size="8.9" text-anchor="middle" fill="#0a0a0a" stroke="#0a0a0a" stroke-width="0.28">20</text>
</g>
</svg></body></html>
